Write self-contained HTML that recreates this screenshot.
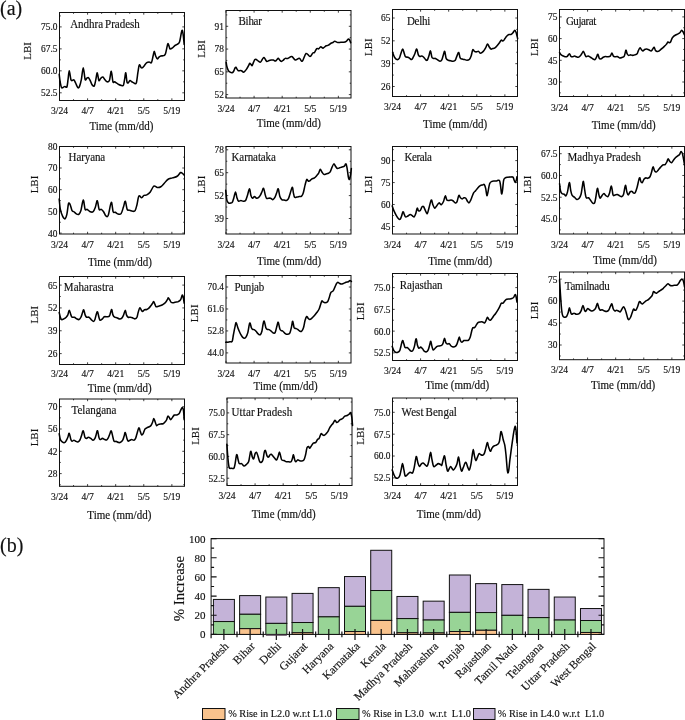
<!DOCTYPE html>
<html><head><meta charset="utf-8"><style>
html,body{margin:0;padding:0;background:#fff;}
svg{display:block;will-change:transform;}
text{font-family:"Liberation Serif",serif;fill:#111;stroke:#111;stroke-width:0.15px;}
.ax{fill:none;stroke:#111;stroke-width:1.0;}
.tk{fill:none;stroke:#111;stroke-width:0.8;}
.tkb{fill:none;stroke:#111;stroke-width:1.2;}
.cv{fill:none;stroke:#000;stroke-width:1.55;stroke-linejoin:round;stroke-linecap:round;}
.yt{font-size:9.4px;text-anchor:end;}
.xt{font-size:9.6px;text-anchor:middle;}
.tl{font-size:11.0px;text-anchor:middle;}
.lbi{font-size:11px;text-anchor:middle;}
.nm{font-size:11px;word-spacing:-0.8px;}
.bo{stroke:#111;stroke-width:1;}
.lg{stroke:#111;stroke-width:1;}
.ybt{font-size:11px;text-anchor:end;}
.bl{font-size:11.5px;text-anchor:end;}
.pi{font-size:14.8px;text-anchor:middle;}
.lt{font-size:10.3px;}
.pl{font-size:20px;}
</style></head>
<body><svg width="685" height="720" viewBox="0 0 685 720">
<g><rect x="59.5" y="12.5" width="125" height="88" class="ax"/><path d="M59.5 100.5v-2.2M59.5 12.5v2.2M73.54 100.5v-1.3M73.54 12.5v1.3M87.59 100.5v-2.2M87.59 12.5v2.2M101.63 100.5v-1.3M101.63 12.5v1.3M115.68 100.5v-2.2M115.68 12.5v2.2M129.72 100.5v-1.3M129.72 12.5v1.3M143.77 100.5v-2.2M143.77 12.5v2.2M157.81 100.5v-1.3M157.81 12.5v1.3M171.86 100.5v-2.2M171.86 12.5v2.2M59.5 15.92h1.3M184.5 15.92h-1.3M59.5 26.9h2.2M184.5 26.9h-2.2M59.5 37.88h1.3M184.5 37.88h-1.3M59.5 48.87h2.2M184.5 48.87h-2.2M59.5 59.85h1.3M184.5 59.85h-1.3M59.5 70.83h2.2M184.5 70.83h-2.2M59.5 81.82h1.3M184.5 81.82h-1.3M59.5 92.8h2.2M184.5 92.8h-2.2" class="tk"/><text transform="translate(57.5 30.3) scale(1 1.1)" class="yt">75.0</text><text transform="translate(57.5 52.27) scale(1 1.1)" class="yt">67.5</text><text transform="translate(57.5 74.23) scale(1 1.1)" class="yt">60.0</text><text transform="translate(57.5 96.2) scale(1 1.1)" class="yt">52.5</text><text transform="translate(59.5 113.98) scale(1 1.1)" class="xt">3/24</text><text transform="translate(87.59 113.98) scale(1 1.1)" class="xt">4/7</text><text transform="translate(115.68 113.98) scale(1 1.1)" class="xt">4/21</text><text transform="translate(143.77 113.98) scale(1 1.1)" class="xt">5/5</text><text transform="translate(171.86 113.98) scale(1 1.1)" class="xt">5/19</text><text transform="translate(121.4 129.97) scale(1 1.1)" class="tl">Time (mm/dd)</text><text transform="translate(31 50.9) rotate(-90)" class="lbi">LBI</text><text transform="translate(70.18 28.16) scale(1 1.06)" class="nm" textLength="69.61" lengthAdjust="spacing">Andhra Pradesh</text><path d="M59.2 74.28C59.35 75.52 59.74 79.53 60.13 81.75C60.52 83.97 60.91 86.73 61.53 87.59C62.16 88.45 63.28 87.09 63.87 86.89C64.45 86.7 64.53 86.42 65.04 86.42C65.54 86.42 66.4 88.06 66.91 86.89C67.41 85.72 67.68 82.1 68.07 79.42C68.46 76.73 68.77 70.77 69.24 70.77C69.71 70.77 70.41 77.78 70.88 79.42C71.34 81.05 71.54 80.51 72.04 80.58C72.55 80.66 73.33 79.49 73.91 79.88C74.5 80.27 74.89 81.64 75.55 82.92C76.21 84.2 77.22 87.01 77.88 87.59C78.55 88.18 78.93 87.79 79.52 86.42C80.1 85.06 80.76 82.53 81.39 79.42C82.01 76.3 82.63 67.74 83.26 67.74C83.88 67.74 84.54 77.66 85.12 79.42C85.71 81.17 86.21 78.56 86.76 78.25C87.3 77.94 87.81 77.16 88.39 77.55C88.98 77.94 89.68 79.42 90.26 80.58C90.85 81.75 91.24 83.66 91.9 84.55C92.56 85.45 93.57 86.81 94.23 85.96C94.9 85.1 95.36 81.6 95.87 79.42C96.37 77.24 96.76 72.68 97.27 72.88C97.78 73.07 98.32 79.69 98.91 80.58C99.49 81.48 100.11 78.83 100.77 78.25C101.44 77.66 102.21 76.89 102.88 77.08C103.54 77.27 104.04 78.64 104.74 79.42C105.45 80.19 106.3 81.56 107.08 81.75C107.86 81.95 108.72 82.34 109.42 80.58C110.12 78.83 110.7 71.05 111.28 71.24C111.87 71.44 112.37 80 112.92 81.75C113.46 83.5 113.97 81.56 114.55 81.75C115.14 81.95 115.72 82.45 116.42 82.92C117.12 83.39 117.9 84.13 118.76 84.55C119.62 84.98 120.78 85.37 121.56 85.49C122.34 85.61 122.92 86.27 123.43 85.26C123.94 84.24 124.21 81.48 124.6 79.42C124.99 77.35 125.38 72.49 125.77 72.88C126.16 73.27 126.55 80.08 126.93 81.75C127.32 83.43 127.6 83.11 128.1 82.92C128.61 82.73 129.35 80.78 129.97 80.58C130.59 80.39 131.18 81.36 131.84 81.75C132.5 82.14 133.2 82.73 133.94 82.92C134.68 83.11 135.62 84.67 136.28 82.92C136.94 81.17 137.41 75.41 137.91 72.41C138.42 69.41 138.77 65.71 139.31 64.93C139.86 64.16 140.64 67.27 141.18 67.74C141.73 68.2 142.04 68.13 142.58 67.74C143.13 67.35 143.75 66.26 144.45 65.4C145.15 64.55 146.01 63.18 146.79 62.6C147.57 62.01 148.35 61.9 149.12 61.9C149.9 61.9 150.8 63.57 151.46 62.6C152.12 61.63 152.63 57.93 153.09 56.06C153.56 54.19 153.83 51.39 154.26 51.39C154.69 51.39 155.16 54.81 155.66 56.06C156.17 57.3 156.75 58.67 157.3 58.86C157.84 59.06 158.35 57.69 158.93 57.23C159.52 56.76 160.02 56.33 160.8 56.06C161.58 55.79 162.83 55.98 163.61 55.59C164.38 55.2 164.77 55.67 165.47 53.72C166.18 51.78 167.19 45.08 167.81 43.91C168.43 42.74 168.82 45.86 169.21 46.72C169.6 47.57 169.6 48.86 170.15 49.05C170.69 49.25 171.7 48.47 172.48 47.88C173.26 47.3 174.04 46.13 174.82 45.55C175.6 44.96 176.37 44.96 177.15 44.38C177.93 43.8 178.79 43.99 179.49 42.04C180.19 40.1 180.89 34.65 181.36 32.7C181.82 30.75 181.98 29.98 182.29 30.36C182.6 30.75 182.91 32.7 183.23 35.04C183.54 37.37 184 42.82 184.16 44.38" class="cv"/></g>
<g><rect x="226" y="10.5" width="125" height="87.5" class="ax"/><path d="M226 98v-2.2M226 10.5v2.2M240.04 98v-1.3M240.04 10.5v1.3M254.09 98v-2.2M254.09 10.5v2.2M268.13 98v-1.3M268.13 10.5v1.3M282.18 98v-2.2M282.18 10.5v2.2M296.22 98v-1.3M296.22 10.5v1.3M310.27 98v-2.2M310.27 10.5v2.2M324.31 98v-1.3M324.31 10.5v1.3M338.36 98v-2.2M338.36 10.5v2.2M226 14.92h1.3M351 14.92h-1.3M226 26.3h2.2M351 26.3h-2.2M226 37.68h1.3M351 37.68h-1.3M226 49.07h2.2M351 49.07h-2.2M226 60.45h1.3M351 60.45h-1.3M226 71.83h2.2M351 71.83h-2.2M226 83.22h1.3M351 83.22h-1.3M226 94.6h2.2M351 94.6h-2.2" class="tk"/><text transform="translate(224 29.7) scale(1 1.1)" class="yt">91</text><text transform="translate(224 52.47) scale(1 1.1)" class="yt">78</text><text transform="translate(224 75.23) scale(1 1.1)" class="yt">65</text><text transform="translate(224 98) scale(1 1.1)" class="yt">52</text><text transform="translate(226 112.35) scale(1 1.1)" class="xt">3/24</text><text transform="translate(254.09 112.35) scale(1 1.1)" class="xt">4/7</text><text transform="translate(282.18 112.35) scale(1 1.1)" class="xt">4/21</text><text transform="translate(310.27 112.35) scale(1 1.1)" class="xt">5/5</text><text transform="translate(338.36 112.35) scale(1 1.1)" class="xt">5/19</text><text transform="translate(288.8 126.93) scale(1 1.1)" class="tl">Time (mm/dd)</text><text transform="translate(205 48.9) rotate(-90)" class="lbi">LBI</text><text transform="translate(238.54 25.13) scale(1 1.06)" class="nm" textLength="23.36" lengthAdjust="spacing">Bihar</text><path d="M226.16 62.36C226.28 63.07 226.51 65.25 226.86 66.57C227.21 67.89 227.72 69.37 228.26 70.31C228.81 71.24 229.47 71.79 230.13 72.18C230.79 72.56 231.65 72.8 232.23 72.64C232.82 72.49 233.17 72.02 233.64 71.24C234.1 70.46 234.65 68.63 235.04 67.97C235.43 67.31 235.66 67.11 235.97 67.27C236.28 67.43 236.52 68.32 236.91 68.91C237.29 69.49 237.76 70.5 238.31 70.77C238.85 71.05 239.63 70.54 240.18 70.54C240.72 70.54 241.03 70.5 241.58 70.77C242.12 71.05 242.9 72.1 243.45 72.18C243.99 72.25 244.3 71.79 244.85 71.24C245.39 70.7 246.05 69.92 246.72 68.91C247.38 67.89 248.31 66.1 248.82 65.17C249.32 64.23 249.4 63.45 249.75 63.3C250.1 63.14 250.53 63.84 250.92 64.23C251.31 64.62 251.66 65.95 252.09 65.64C252.52 65.32 253.02 63.38 253.49 62.36C253.96 61.35 254.42 60.03 254.89 59.56C255.36 59.09 255.75 59.33 256.29 59.56C256.84 59.8 257.46 60.54 258.16 60.96C258.86 61.39 259.76 62.48 260.5 62.13C261.24 61.78 262.01 59.64 262.6 58.86C263.18 58.08 263.53 57.34 264 57.46C264.47 57.58 264.93 58.9 265.4 59.56C265.87 60.22 266.26 61.24 266.8 61.43C267.35 61.63 267.97 60.96 268.67 60.73C269.37 60.5 270.23 60.15 271.01 60.03C271.79 59.91 272.64 59.87 273.34 60.03C274.04 60.18 274.67 60.96 275.21 60.96C275.76 60.96 276.11 60.46 276.61 60.03C277.12 59.6 277.74 58.39 278.25 58.39C278.75 58.39 279.1 59.52 279.65 60.03C280.19 60.54 280.9 61.43 281.52 61.43C282.14 61.43 282.76 60.54 283.39 60.03C284.01 59.52 284.52 58.67 285.26 58.39C286 58.12 286.73 58.71 287.82 58.39C288.91 58.08 290.55 56.25 291.8 56.53C293.04 56.8 294.05 59.76 295.3 60.03C296.55 60.3 298.1 57.97 299.27 58.16C300.44 58.36 301.18 61.98 302.31 61.2C303.44 60.42 304.76 54.27 306.04 53.49C307.33 52.71 308.89 56.6 310.01 56.53C311.14 56.45 312.08 53.68 312.82 53.02C313.56 52.36 313.79 53.29 314.45 52.55C315.11 51.82 316.09 49.21 316.79 48.58C317.49 47.96 318 49.13 318.66 48.82C319.32 48.51 320.02 46.83 320.76 46.72C321.5 46.6 322.2 48.27 323.09 48.12C323.99 47.96 325.24 46.29 326.13 45.78C327.03 45.27 327.65 45.51 328.47 45.08C329.28 44.65 330.3 43.64 331.04 43.21C331.78 42.78 332.28 42.82 332.91 42.51C333.53 42.2 333.96 41.34 334.77 41.34C335.59 41.34 336.8 42.36 337.81 42.51C338.82 42.67 339.87 42.32 340.85 42.28C341.82 42.24 342.75 42.43 343.65 42.28C344.55 42.12 345.48 41.85 346.22 41.34C346.96 40.84 347.54 39.51 348.09 39.24C348.63 38.97 349.06 39.12 349.49 39.71C349.92 40.29 350.46 42.24 350.66 42.74" class="cv"/></g>
<g><rect x="392.5" y="9.5" width="125" height="87" class="ax"/><path d="M392.5 96.5v-2.2M392.5 9.5v2.2M406.54 96.5v-1.3M406.54 9.5v1.3M420.59 96.5v-2.2M420.59 9.5v2.2M434.63 96.5v-1.3M434.63 9.5v1.3M448.68 96.5v-2.2M448.68 9.5v2.2M462.72 96.5v-1.3M462.72 9.5v1.3M476.77 96.5v-2.2M476.77 9.5v2.2M490.81 96.5v-1.3M490.81 9.5v1.3M504.86 96.5v-2.2M504.86 9.5v2.2M392.5 18h2.2M517.5 18h-2.2M392.5 29.42h1.3M517.5 29.42h-1.3M392.5 40.83h2.2M517.5 40.83h-2.2M392.5 52.25h1.3M517.5 52.25h-1.3M392.5 63.67h2.2M517.5 63.67h-2.2M392.5 75.08h1.3M517.5 75.08h-1.3M392.5 86.5h2.2M517.5 86.5h-2.2" class="tk"/><text transform="translate(390.5 21.4) scale(1 1.1)" class="yt">65</text><text transform="translate(390.5 44.23) scale(1 1.1)" class="yt">52</text><text transform="translate(390.5 67.07) scale(1 1.1)" class="yt">39</text><text transform="translate(390.5 89.9) scale(1 1.1)" class="yt">26</text><text transform="translate(392.5 110.25) scale(1 1.1)" class="xt">3/24</text><text transform="translate(420.59 110.25) scale(1 1.1)" class="xt">4/7</text><text transform="translate(448.68 110.25) scale(1 1.1)" class="xt">4/21</text><text transform="translate(476.77 110.25) scale(1 1.1)" class="xt">5/5</text><text transform="translate(504.86 110.25) scale(1 1.1)" class="xt">5/19</text><text transform="translate(455.1 128.1) scale(1 1.1)" class="tl">Time (mm/dd)</text><text transform="translate(371.8 47.2) rotate(-90)" class="lbi">LBI</text><text transform="translate(406.91 25.13) scale(1 1.06)" class="nm" textLength="23.36" lengthAdjust="spacing">Delhi</text><path d="M392.66 52.55C392.97 53.33 393.82 56.06 394.53 57.23C395.23 58.39 396.08 59.37 396.86 59.56C397.64 59.76 398.54 59.37 399.2 58.39C399.86 57.42 400.25 55.28 400.83 53.72C401.42 52.17 402.12 49.05 402.7 49.05C403.28 49.05 403.87 52.44 404.34 53.72C404.8 55.01 404.92 56.18 405.5 56.76C406.09 57.34 407.14 56.95 407.84 57.23C408.54 57.5 409.09 58 409.71 58.39C410.33 58.78 410.99 59.76 411.58 59.56C412.16 59.37 412.67 58.2 413.21 57.23C413.76 56.25 414.26 55.09 414.85 53.72C415.43 52.36 416.13 48.86 416.72 49.05C417.3 49.25 417.84 53.64 418.35 54.89C418.86 56.14 419.17 56.33 419.75 56.53C420.34 56.72 421.19 55.94 421.85 56.06C422.52 56.18 423.1 56.64 423.72 57.23C424.35 57.81 425.01 59.06 425.59 59.56C426.18 60.07 426.68 60.85 427.23 60.26C427.77 59.68 428.32 57.62 428.86 56.06C429.41 54.5 429.99 50.73 430.5 50.92C431 51.11 431.39 55.98 431.9 57.23C432.4 58.47 432.95 58.2 433.53 58.39C434.12 58.59 434.78 58.2 435.4 58.39C436.02 58.59 436.49 59.09 437.27 59.56C438.05 60.03 439.29 61.2 440.07 61.2C440.85 61.2 441.4 60.61 441.94 59.56C442.49 58.51 442.88 56.25 443.34 54.89C443.81 53.53 444.28 50.8 444.74 51.39C445.21 51.97 445.56 56.91 446.15 58.39C446.73 59.87 447.51 59.87 448.25 60.26C448.99 60.65 449.81 60.57 450.58 60.73C451.36 60.89 452.14 61.27 452.92 61.2C453.7 61.12 454.59 61.12 455.26 60.26C455.92 59.41 456.31 57.34 456.89 56.06C457.47 54.77 458.21 52.24 458.76 52.55C459.3 52.87 459.58 56.84 460.16 57.93C460.74 59.02 461.52 58.82 462.26 59.09C463 59.37 463.82 59.37 464.6 59.56C465.38 59.76 466.16 60.26 466.93 60.26C467.71 60.26 468.57 60.26 469.27 59.56C469.97 58.86 470.55 57.69 471.14 56.06C471.72 54.42 472.23 50.53 472.77 49.75C473.32 48.97 473.82 51.04 474.41 51.39C474.99 51.74 475.58 51.85 476.28 51.85C476.98 51.85 477.91 51.15 478.61 51.39C479.31 51.62 479.7 53.26 480.48 53.26C481.26 53.26 482.43 52.28 483.28 51.39C484.14 50.49 484.92 49.13 485.62 47.88C486.32 46.64 486.91 44.11 487.49 43.91C488.07 43.72 488.54 45.86 489.12 46.72C489.71 47.57 490.41 48.74 490.99 49.05C491.58 49.36 491.97 48.78 492.63 48.58C493.29 48.39 494.18 48.39 494.96 47.88C495.74 47.38 496.52 46.44 497.3 45.55C498.08 44.65 498.97 43.41 499.64 42.51C500.3 41.62 500.69 40.45 501.27 40.18C501.85 39.9 502.52 41.15 503.14 40.88C503.76 40.6 504.42 39.32 505.01 38.54C505.59 37.76 505.98 36.87 506.64 36.2C507.3 35.54 508.2 34.88 508.98 34.57C509.76 34.26 510.65 34.65 511.31 34.34C511.98 34.02 512.36 33.36 512.95 32.7C513.53 32.04 514.27 30.36 514.82 30.36C515.36 30.36 515.75 31.34 516.22 32.7C516.69 34.06 517.39 37.57 517.62 38.54" class="cv"/></g>
<g><rect x="559.5" y="9.5" width="125" height="87" class="ax"/><path d="M559.5 96.5v-2.2M559.5 9.5v2.2M573.54 96.5v-1.3M573.54 9.5v1.3M587.59 96.5v-2.2M587.59 9.5v2.2M601.63 96.5v-1.3M601.63 9.5v1.3M615.68 96.5v-2.2M615.68 9.5v2.2M629.72 96.5v-1.3M629.72 9.5v1.3M643.77 96.5v-2.2M643.77 9.5v2.2M657.81 96.5v-1.3M657.81 9.5v1.3M671.86 96.5v-2.2M671.86 9.5v2.2M559.5 16.9h2.2M684.5 16.9h-2.2M559.5 27.75h1.3M684.5 27.75h-1.3M559.5 38.6h2.2M684.5 38.6h-2.2M559.5 49.45h1.3M684.5 49.45h-1.3M559.5 60.3h2.2M684.5 60.3h-2.2M559.5 71.15h1.3M684.5 71.15h-1.3M559.5 82h2.2M684.5 82h-2.2M559.5 92.85h1.3M684.5 92.85h-1.3" class="tk"/><text transform="translate(557.5 20.3) scale(1 1.1)" class="yt">75</text><text transform="translate(557.5 42) scale(1 1.1)" class="yt">60</text><text transform="translate(557.5 63.7) scale(1 1.1)" class="yt">45</text><text transform="translate(557.5 85.4) scale(1 1.1)" class="yt">30</text><text transform="translate(559.5 110.71) scale(1 1.1)" class="xt">3/24</text><text transform="translate(587.59 110.71) scale(1 1.1)" class="xt">4/7</text><text transform="translate(615.68 110.71) scale(1 1.1)" class="xt">4/21</text><text transform="translate(643.77 110.71) scale(1 1.1)" class="xt">5/5</text><text transform="translate(671.86 110.71) scale(1 1.1)" class="xt">5/19</text><text transform="translate(623.7 129.27) scale(1 1.1)" class="tl">Time (mm/dd)</text><text transform="translate(538.3 47.2) rotate(-90)" class="lbi">LBI</text><text transform="translate(565.88 25.13) scale(1 1.06)" class="nm" textLength="30.36" lengthAdjust="spacing">Gujarat</text><path d="M559.57 52.55C559.84 52.94 560.54 54.31 561.2 54.89C561.87 55.47 562.76 55.75 563.54 56.06C564.32 56.37 565.21 56.76 565.88 56.76C566.54 56.76 566.93 56.56 567.51 56.06C568.09 55.55 568.8 53.64 569.38 53.72C569.96 53.8 570.43 56.02 571.01 56.53C571.6 57.03 572.3 56.84 572.88 56.76C573.47 56.68 573.93 56.06 574.52 56.06C575.1 56.06 575.76 56.56 576.39 56.76C577.01 56.95 577.63 57.34 578.26 57.23C578.88 57.11 579.54 56.64 580.12 56.06C580.71 55.47 581.21 54.5 581.76 53.72C582.3 52.94 582.85 51.19 583.39 51.39C583.94 51.58 584.56 54 585.03 54.89C585.5 55.79 585.69 56.56 586.2 56.76C586.7 56.95 587.36 55.98 588.07 56.06C588.77 56.14 589.62 56.76 590.4 57.23C591.18 57.69 591.96 58.47 592.74 58.86C593.52 59.25 594.45 59.83 595.07 59.56C595.7 59.29 596.01 58.12 596.47 57.23C596.94 56.33 597.41 54 597.88 54.19C598.34 54.38 598.77 57.62 599.28 58.39C599.78 59.17 600.25 59.06 600.91 58.86C601.57 58.67 602.47 57.62 603.25 57.23C604.03 56.84 604.81 56.6 605.58 56.53C606.36 56.45 607.14 56.84 607.92 56.76C608.7 56.68 609.59 56.68 610.26 56.06C610.92 55.44 611.38 53.02 611.89 53.02C612.4 53.02 612.79 55.44 613.29 56.06C613.8 56.68 614.27 56.68 614.93 56.76C615.59 56.84 616.48 56.33 617.26 56.53C618.04 56.72 618.82 57.77 619.6 57.93C620.38 58.08 621.16 57.77 621.93 57.46C622.71 57.15 623.61 57.27 624.27 56.06C624.93 54.85 625.44 50.61 625.91 50.22C626.37 49.83 626.64 52.87 627.07 53.72C627.5 54.58 627.89 55.16 628.47 55.36C629.06 55.55 629.91 54.89 630.58 54.89C631.24 54.89 631.74 55.36 632.45 55.36C633.15 55.36 634 55.16 634.78 54.89C635.56 54.62 636.53 54.38 637.12 53.72C637.7 53.06 637.82 51.89 638.28 50.92C638.75 49.95 639.41 48.12 639.92 47.88C640.43 47.65 640.82 49.01 641.32 49.52C641.83 50.02 642.41 50.92 642.96 50.92C643.5 50.92 644.01 49.83 644.59 49.52C645.18 49.21 645.76 49.01 646.46 49.05C647.16 49.09 648.02 49.44 648.8 49.75C649.57 50.06 650.47 51.04 651.13 50.92C651.79 50.8 652.26 49.67 652.77 49.05C653.27 48.43 653.74 46.99 654.17 47.18C654.6 47.38 654.87 49.52 655.34 50.22C655.8 50.92 656.31 51.27 656.97 51.39C657.63 51.5 658.61 51.31 659.31 50.92C660.01 50.53 660.59 49.56 661.18 49.05C661.76 48.55 662.23 48.39 662.81 47.88C663.39 47.38 664.09 46.6 664.68 46.01C665.26 45.43 665.77 45.04 666.31 44.38C666.86 43.72 667.48 42.32 667.95 42.04C668.42 41.77 668.69 42.74 669.12 42.74C669.55 42.74 670.01 42.82 670.52 42.04C671.02 41.27 671.61 39.05 672.15 38.07C672.7 37.1 673.2 36.71 673.79 36.2C674.37 35.7 674.96 35.43 675.66 35.04C676.36 34.65 677.29 34.26 677.99 33.87C678.69 33.48 679.28 33.28 679.86 32.7C680.45 32.12 680.99 30.56 681.5 30.36C682 30.17 682.39 30.75 682.9 31.53C683.4 32.31 684.26 34.45 684.53 35.04" class="cv"/></g>
<g><rect x="59.5" y="146.5" width="125" height="87.5" class="ax"/><path d="M59.5 234v-2.2M59.5 146.5v2.2M73.54 234v-1.3M73.54 146.5v1.3M87.59 234v-2.2M87.59 146.5v2.2M101.63 234v-1.3M101.63 146.5v1.3M115.68 234v-2.2M115.68 146.5v2.2M129.72 234v-1.3M129.72 146.5v1.3M143.77 234v-2.2M143.77 146.5v2.2M157.81 234v-1.3M157.81 146.5v1.3M171.86 234v-2.2M171.86 146.5v2.2M59.5 157.15h1.3M184.5 157.15h-1.3M59.5 168h2.2M184.5 168h-2.2M59.5 178.85h1.3M184.5 178.85h-1.3M59.5 189.7h2.2M184.5 189.7h-2.2M59.5 200.55h1.3M184.5 200.55h-1.3M59.5 211.4h2.2M184.5 211.4h-2.2M59.5 222.25h1.3M184.5 222.25h-1.3M59.5 233.1h2.2M184.5 233.1h-2.2" class="tk"/><text transform="translate(57.5 149.7) scale(1 1.1)" class="yt">80</text><text transform="translate(57.5 171.4) scale(1 1.1)" class="yt">70</text><text transform="translate(57.5 193.1) scale(1 1.1)" class="yt">60</text><text transform="translate(57.5 214.8) scale(1 1.1)" class="yt">50</text><text transform="translate(57.5 236.5) scale(1 1.1)" class="yt">40</text><text transform="translate(59.5 247.96) scale(1 1.1)" class="xt">3/24</text><text transform="translate(87.59 247.96) scale(1 1.1)" class="xt">4/7</text><text transform="translate(115.68 247.96) scale(1 1.1)" class="xt">4/21</text><text transform="translate(143.77 247.96) scale(1 1.1)" class="xt">5/5</text><text transform="translate(171.86 247.96) scale(1 1.1)" class="xt">5/19</text><text transform="translate(119.9 266.27) scale(1 1.1)" class="tl">Time (mm/dd)</text><text transform="translate(38.1 184.5) rotate(-90)" class="lbi">LBI</text><text transform="translate(68.54 160.96) scale(1 1.06)" class="nm" textLength="36.67" lengthAdjust="spacing">Haryana</text><path d="M59.2 198.91C59.39 200.66 59.78 206.5 60.36 209.42C60.95 212.34 61.92 214.87 62.7 216.42C63.48 217.98 64.34 219.15 65.04 218.76C65.74 218.37 66.32 216.62 66.91 214.09C67.49 211.56 68 205.13 68.54 203.58C69.09 202.02 69.59 203.58 70.18 204.74C70.76 205.91 71.42 209.42 72.04 210.58C72.67 211.75 73.13 211.17 73.91 211.75C74.69 212.34 75.86 213.7 76.72 214.09C77.57 214.48 78.35 214.67 79.05 214.09C79.75 213.5 80.22 212.92 80.92 210.58C81.62 208.25 82.55 200.27 83.26 200.07C83.96 199.88 84.46 207.86 85.12 209.42C85.79 210.97 86.37 209.03 87.23 209.42C88.08 209.81 89.29 211.36 90.26 211.75C91.24 212.14 92.21 212.53 93.07 211.75C93.92 210.97 94.7 208.91 95.4 207.08C96.1 205.25 96.65 200.38 97.27 200.77C97.89 201.16 98.48 207.98 99.14 209.42C99.8 210.86 100.5 209.03 101.24 209.42C101.98 209.81 102.8 210.66 103.58 211.75C104.36 212.84 105.13 215.37 105.91 215.96C106.69 216.54 107.35 217.51 108.25 215.26C109.14 213 110.47 202.99 111.28 202.41C112.1 201.82 112.49 210.12 113.15 211.75C113.82 213.39 114.4 211.83 115.26 212.22C116.11 212.61 117.32 213.85 118.29 214.09C119.27 214.32 120.24 214.79 121.09 213.62C121.95 212.45 122.73 209.14 123.43 207.08C124.13 205.02 124.68 200.85 125.3 201.24C125.92 201.63 126.51 207.94 127.17 209.42C127.83 210.9 128.34 209.81 129.27 210.12C130.2 210.43 131.8 211.21 132.77 211.28C133.75 211.36 134.41 211.67 135.11 210.58C135.81 209.49 136.36 207.16 136.98 204.74C137.6 202.33 138.07 197.27 138.85 196.1C139.63 194.93 140.79 197.85 141.65 197.74C142.51 197.62 143.13 195.87 143.99 195.4C144.84 194.93 145.74 195.52 146.79 194.93C147.84 194.35 149.12 193.38 150.29 191.9C151.46 190.42 152.63 186.8 153.8 186.06C154.96 185.32 156.13 187.34 157.3 187.46C158.47 187.58 159.64 187.46 160.8 186.76C161.97 186.06 163.14 184.46 164.31 183.26C165.47 182.05 166.45 180.41 167.81 179.52C169.17 178.62 170.92 178.43 172.48 177.88C174.04 177.34 175.79 177.14 177.15 176.25C178.52 175.35 179.68 172.9 180.66 172.51C181.63 172.12 182.41 173.48 182.99 173.91C183.58 174.34 183.97 174.89 184.16 175.08" class="cv"/></g>
<g><rect x="226" y="146.5" width="125" height="87.5" class="ax"/><path d="M226 234v-2.2M226 146.5v2.2M240.04 234v-1.3M240.04 146.5v1.3M254.09 234v-2.2M254.09 146.5v2.2M268.13 234v-1.3M268.13 146.5v1.3M282.18 234v-2.2M282.18 146.5v2.2M296.22 234v-1.3M296.22 146.5v1.3M310.27 234v-2.2M310.27 146.5v2.2M324.31 234v-1.3M324.31 146.5v1.3M338.36 234v-2.2M338.36 146.5v2.2M226 149.8h2.2M351 149.8h-2.2M226 161.25h1.3M351 161.25h-1.3M226 172.7h2.2M351 172.7h-2.2M226 184.15h1.3M351 184.15h-1.3M226 195.6h2.2M351 195.6h-2.2M226 207.05h1.3M351 207.05h-1.3M226 218.5h2.2M351 218.5h-2.2M226 229.95h1.3M351 229.95h-1.3" class="tk"/><text transform="translate(224 153.2) scale(1 1.1)" class="yt">78</text><text transform="translate(224 176.1) scale(1 1.1)" class="yt">65</text><text transform="translate(224 199) scale(1 1.1)" class="yt">52</text><text transform="translate(224 221.9) scale(1 1.1)" class="yt">39</text><text transform="translate(226 247.96) scale(1 1.1)" class="xt">3/24</text><text transform="translate(254.09 247.96) scale(1 1.1)" class="xt">4/7</text><text transform="translate(282.18 247.96) scale(1 1.1)" class="xt">4/21</text><text transform="translate(310.27 247.96) scale(1 1.1)" class="xt">5/5</text><text transform="translate(338.36 247.96) scale(1 1.1)" class="xt">5/19</text><text transform="translate(289.1 265.11) scale(1 1.1)" class="tl">Time (mm/dd)</text><text transform="translate(205.3 184.5) rotate(-90)" class="lbi">LBI</text><text transform="translate(231.53 161.43) scale(1 1.06)" class="nm" textLength="44.38" lengthAdjust="spacing">Karnataka</text><path d="M225.69 190.26C225.89 191.9 226.39 197.97 226.86 200.07C227.33 202.18 227.91 202.37 228.5 202.88C229.08 203.38 229.74 203.19 230.36 203.11C230.99 203.03 231.65 203.3 232.23 202.41C232.82 201.51 233.32 199.49 233.87 197.74C234.41 195.99 235 191.9 235.5 191.9C236.01 191.9 236.4 196.18 236.91 197.74C237.41 199.29 237.88 200.77 238.54 201.24C239.2 201.71 240.1 200.54 240.88 200.54C241.65 200.54 242.43 201.24 243.21 201.24C243.99 201.24 244.85 201.51 245.55 200.54C246.25 199.57 246.75 197.35 247.42 195.4C248.08 193.45 248.93 188.86 249.52 188.86C250.1 188.86 250.41 193.84 250.92 195.4C251.43 196.96 251.97 198.01 252.55 198.2C253.14 198.4 253.76 196.57 254.42 196.57C255.09 196.57 255.86 198.01 256.53 198.2C257.19 198.4 257.77 198.2 258.39 197.74C259.02 197.27 259.68 196.37 260.26 195.4C260.85 194.43 261.35 193.07 261.9 191.9C262.44 190.73 262.95 187.81 263.53 188.39C264.12 188.98 264.9 193.73 265.4 195.4C265.91 197.08 266.06 197.97 266.57 198.44C267.08 198.91 267.78 198.24 268.44 198.2C269.1 198.17 269.8 197.97 270.54 198.2C271.28 198.44 272.18 199.68 272.88 199.61C273.58 199.53 274.12 198.83 274.74 197.74C275.37 196.65 276.03 194.55 276.61 193.07C277.2 191.59 277.7 188.28 278.25 188.86C278.79 189.45 279.3 194.78 279.88 196.57C280.47 198.36 281.05 199.02 281.75 199.61C282.45 200.19 283.31 199.92 284.09 200.07C284.87 200.23 285.72 200.73 286.42 200.54C287.12 200.35 287.71 199.96 288.29 198.91C288.88 197.85 289.27 196.18 289.93 194.23C290.59 192.29 291.68 187.42 292.26 187.23C292.85 187.03 293.04 191.39 293.43 193.07C293.82 194.74 294.01 196.61 294.6 197.27C295.18 197.93 296.16 197.15 296.93 197.04C297.71 196.92 298.49 196.73 299.27 196.57C300.05 196.41 300.94 196.69 301.61 196.1C302.27 195.52 302.66 194.93 303.24 193.07C303.82 191.2 304.53 187.15 305.11 184.89C305.69 182.63 306.24 180.18 306.74 179.52C307.25 178.86 307.64 180.69 308.15 180.92C308.65 181.15 309.2 181.23 309.78 180.92C310.36 180.61 310.87 179.56 311.65 179.05C312.43 178.55 313.6 178.47 314.45 177.88C315.31 177.3 316.09 176.33 316.79 175.55C317.49 174.77 318.07 174.26 318.66 173.21C319.24 172.16 319.75 169.44 320.29 169.24C320.84 169.05 321.34 171.19 321.93 172.04C322.51 172.9 323.09 174.07 323.8 174.38C324.5 174.69 325.35 174.11 326.13 173.91C326.91 173.72 327.77 173.6 328.47 173.21C329.17 172.82 329.75 172.55 330.34 171.58C330.92 170.6 331.39 168.66 331.97 167.37C332.55 166.09 333.26 164.06 333.84 163.87C334.42 163.67 334.89 165.43 335.47 166.2C336.06 166.98 336.64 168.27 337.34 168.54C338.04 168.81 338.9 168.11 339.68 167.84C340.46 167.57 341.24 167.18 342.01 166.91C342.79 166.63 343.69 166.71 344.35 166.2C345.01 165.7 345.52 163.48 345.99 163.87C346.45 164.26 346.76 166.4 347.15 168.54C347.54 170.68 347.93 174.89 348.32 176.72C348.71 178.55 349.1 179.91 349.49 179.52C349.88 179.13 350.35 176.21 350.66 174.38C350.97 172.55 351.24 169.51 351.36 168.54" class="cv"/></g>
<g><rect x="392.5" y="146.5" width="125" height="87.5" class="ax"/><path d="M392.5 234v-2.2M392.5 146.5v2.2M406.54 234v-1.3M406.54 146.5v1.3M420.59 234v-2.2M420.59 146.5v2.2M434.63 234v-1.3M434.63 146.5v1.3M448.68 234v-2.2M448.68 146.5v2.2M462.72 234v-1.3M462.72 146.5v1.3M476.77 234v-2.2M476.77 146.5v2.2M490.81 234v-1.3M490.81 146.5v1.3M504.86 234v-2.2M504.86 146.5v2.2M392.5 149.62h1.3M517.5 149.62h-1.3M392.5 160.6h2.2M517.5 160.6h-2.2M392.5 171.58h1.3M517.5 171.58h-1.3M392.5 182.57h2.2M517.5 182.57h-2.2M392.5 193.55h1.3M517.5 193.55h-1.3M392.5 204.53h2.2M517.5 204.53h-2.2M392.5 215.52h1.3M517.5 215.52h-1.3M392.5 226.5h2.2M517.5 226.5h-2.2" class="tk"/><text transform="translate(390.5 164) scale(1 1.1)" class="yt">90</text><text transform="translate(390.5 185.97) scale(1 1.1)" class="yt">75</text><text transform="translate(390.5 207.93) scale(1 1.1)" class="yt">60</text><text transform="translate(390.5 229.9) scale(1 1.1)" class="yt">45</text><text transform="translate(392.5 247.96) scale(1 1.1)" class="xt">3/24</text><text transform="translate(420.59 247.96) scale(1 1.1)" class="xt">4/7</text><text transform="translate(448.68 247.96) scale(1 1.1)" class="xt">4/21</text><text transform="translate(476.77 247.96) scale(1 1.1)" class="xt">5/5</text><text transform="translate(504.86 247.96) scale(1 1.1)" class="xt">5/19</text><text transform="translate(460.2 265.11) scale(1 1.1)" class="tl">Time (mm/dd)</text><text transform="translate(372.1 184.5) rotate(-90)" class="lbi">LBI</text><text transform="translate(404.38 160.96) scale(1 1.06)" class="nm" textLength="27.56" lengthAdjust="spacing">Kerala</text><path d="M392.23 205.91C392.51 206.69 393.21 209.03 393.87 210.58C394.53 212.14 395.43 213.89 396.2 215.26C396.98 216.62 397.88 218.1 398.54 218.76C399.2 219.42 399.67 219.69 400.18 219.23C400.68 218.76 401.11 217.2 401.58 215.96C402.04 214.71 402.51 211.99 402.98 211.75C403.45 211.52 403.95 213.7 404.38 214.55C404.81 215.41 404.96 216.66 405.55 216.89C406.13 217.12 407.1 216.35 407.88 215.96C408.66 215.57 409.44 214.55 410.22 214.55C411 214.55 411.89 215.57 412.55 215.96C413.22 216.35 413.68 217.2 414.19 216.89C414.7 216.58 415.09 215.53 415.59 214.09C416.1 212.65 416.76 208.83 417.23 208.25C417.69 207.66 417.89 210.19 418.39 210.58C418.9 210.97 419.68 211.17 420.26 210.58C420.85 210 421.35 207.74 421.9 207.08C422.44 206.42 422.95 206.03 423.53 206.61C424.12 207.2 424.78 209.42 425.4 210.58C426.02 211.75 426.69 214.01 427.27 213.62C427.85 213.23 428.24 210.51 428.91 208.25C429.57 205.99 430.58 200.66 431.24 200.07C431.9 199.49 432.29 203.38 432.88 204.74C433.46 206.11 434.12 208.05 434.74 208.25C435.37 208.44 435.91 206.81 436.61 205.91C437.31 205.02 438.17 203.07 438.95 202.88C439.73 202.68 440.51 205.02 441.28 204.74C442.06 204.47 442.96 202.72 443.62 201.24C444.28 199.76 444.71 196.06 445.26 195.87C445.8 195.67 446.31 199.29 446.89 200.07C447.47 200.85 448.06 200.54 448.76 200.54C449.46 200.54 450.39 200.03 451.09 200.07C451.8 200.11 452.26 200.31 452.96 200.77C453.66 201.24 454.64 202.68 455.3 202.88C455.96 203.07 456.35 203.19 456.93 201.94C457.52 200.7 458.22 196.1 458.8 195.4C459.39 194.7 459.85 197.15 460.44 197.74C461.02 198.32 461.72 198.91 462.31 198.91C462.89 198.91 463.36 197.85 463.94 197.74C464.53 197.62 465.23 197.62 465.81 198.2C466.39 198.79 466.9 200.46 467.45 201.24C467.99 202.02 468.54 203.07 469.08 202.88C469.63 202.68 470.21 201.12 470.72 200.07C471.22 199.02 471.61 197.82 472.12 196.57C472.62 195.32 473.17 193.57 473.75 192.6C474.34 191.63 474.92 191.55 475.62 190.73C476.32 189.91 477.18 188.55 477.96 187.69C478.73 186.84 479.51 186.06 480.29 185.59C481.07 185.12 481.97 185.09 482.63 184.89C483.29 184.7 483.76 183.84 484.26 184.42C484.77 185.01 485.24 186.56 485.66 188.39C486.09 190.22 486.48 194.62 486.83 195.4C487.18 196.18 487.3 195.01 487.77 193.07C488.23 191.12 488.93 185.67 489.64 183.72C490.34 181.78 491.19 181.85 491.97 181.39C492.75 180.92 493.53 181 494.31 180.92C495.09 180.84 495.98 181.04 496.64 180.92C497.3 180.8 497.77 180.22 498.28 180.22C498.78 180.22 499.29 179.95 499.68 180.92C500.07 181.89 500.3 183.92 500.61 186.06C500.92 188.2 501.24 192.99 501.55 193.77C501.86 194.55 502.13 192.99 502.48 190.73C502.83 188.47 503.18 182.36 503.65 180.22C504.12 178.08 504.62 178.39 505.28 177.88C505.95 177.38 506.73 177.34 507.62 177.18C508.52 177.03 509.76 176.95 510.66 176.95C511.55 176.95 512.41 176.64 512.99 177.18C513.58 177.73 513.77 179.32 514.16 180.22C514.55 181.11 514.94 182.67 515.33 182.55C515.72 182.44 516.22 180.49 516.5 179.52C516.77 178.55 516.89 177.18 516.96 176.72" class="cv"/></g>
<g><rect x="559.5" y="146.5" width="125" height="87.5" class="ax"/><path d="M559.5 234v-2.2M559.5 146.5v2.2M573.54 234v-1.3M573.54 146.5v1.3M587.59 234v-2.2M587.59 146.5v2.2M601.63 234v-1.3M601.63 146.5v1.3M615.68 234v-2.2M615.68 146.5v2.2M629.72 234v-1.3M629.72 146.5v1.3M643.77 234v-2.2M643.77 146.5v2.2M657.81 234v-1.3M657.81 146.5v1.3M671.86 234v-2.2M671.86 146.5v2.2M559.5 153.7h2.2M684.5 153.7h-2.2M559.5 164.58h1.3M684.5 164.58h-1.3M559.5 175.47h2.2M684.5 175.47h-2.2M559.5 186.35h1.3M684.5 186.35h-1.3M559.5 197.23h2.2M684.5 197.23h-2.2M559.5 208.12h1.3M684.5 208.12h-1.3M559.5 219h2.2M684.5 219h-2.2M559.5 229.88h1.3M684.5 229.88h-1.3" class="tk"/><text transform="translate(557.5 157.1) scale(1 1.1)" class="yt">67.5</text><text transform="translate(557.5 178.87) scale(1 1.1)" class="yt">60.0</text><text transform="translate(557.5 200.63) scale(1 1.1)" class="yt">52.5</text><text transform="translate(557.5 222.4) scale(1 1.1)" class="yt">45.0</text><text transform="translate(559.5 247.96) scale(1 1.1)" class="xt">3/24</text><text transform="translate(587.59 247.96) scale(1 1.1)" class="xt">4/7</text><text transform="translate(615.68 247.96) scale(1 1.1)" class="xt">4/21</text><text transform="translate(643.77 247.96) scale(1 1.1)" class="xt">5/5</text><text transform="translate(671.86 247.96) scale(1 1.1)" class="xt">5/19</text><text transform="translate(624.9 263.94) scale(1 1.1)" class="tl">Time (mm/dd)</text><text transform="translate(531.2 184.5) rotate(-90)" class="lbi">LBI</text><text transform="translate(567.51 161.43) scale(1 1.06)" class="nm" textLength="73.58" lengthAdjust="spacing">Madhya Pradesh</text><path d="M559.57 183.72C559.73 184.89 560.11 189.09 560.5 190.73C560.89 192.36 561.28 192.95 561.91 193.53C562.53 194.12 563.58 193.84 564.24 194.23C564.9 194.62 565.33 196.26 565.88 195.87C566.42 195.48 566.93 194.12 567.51 191.9C568.09 189.68 568.83 182.75 569.38 182.55C569.92 182.36 570.31 188.59 570.78 190.73C571.25 192.87 571.56 194.31 572.18 195.4C572.81 196.49 573.74 196.61 574.52 197.27C575.3 197.93 576.08 199.22 576.85 199.37C577.63 199.53 578.49 199.06 579.19 198.2C579.89 197.35 580.55 196.06 581.06 194.23C581.56 192.4 581.84 189.37 582.23 187.23C582.62 185.09 582.97 180.8 583.39 181.39C583.82 181.97 584.33 188 584.8 190.73C585.26 193.45 585.57 196.57 586.2 197.74C586.82 198.91 587.83 197.35 588.53 197.74C589.23 198.13 589.7 199.18 590.4 200.07C591.1 200.97 592.04 202.64 592.74 203.11C593.44 203.58 594.1 203.77 594.61 202.88C595.11 201.98 595.31 200.15 595.77 197.74C596.24 195.32 596.86 188.78 597.41 188.39C597.95 188 598.58 193.77 599.04 195.4C599.51 197.04 599.71 198.2 600.21 198.2C600.72 198.2 601.46 196.18 602.08 195.4C602.7 194.62 603.36 193.53 603.95 193.53C604.53 193.53 604.92 194.9 605.58 195.4C606.25 195.91 607.26 196.96 607.92 196.57C608.58 196.18 608.97 194.82 609.55 193.07C610.14 191.31 610.84 185.75 611.42 186.06C612.01 186.37 612.47 193.45 613.06 194.93C613.64 196.41 614.23 195.01 614.93 194.93C615.63 194.86 616.48 194.31 617.26 194.47C618.04 194.62 618.82 195.52 619.6 195.87C620.38 196.22 621.27 196.84 621.93 196.57C622.6 196.3 622.99 196.1 623.57 194.23C624.15 192.36 624.89 185.75 625.44 185.36C625.98 184.97 626.37 190.3 626.84 191.9C627.31 193.49 627.7 194.93 628.24 194.93C628.79 194.93 629.49 192.48 630.11 191.9C630.73 191.31 631.39 191.24 631.98 191.43C632.56 191.63 633.07 192.87 633.61 193.07C634.16 193.26 634.66 193.57 635.25 192.6C635.83 191.63 636.42 189.68 637.12 187.23C637.82 184.77 638.83 178.86 639.45 177.88C640.08 176.91 640.39 180.61 640.85 181.39C641.32 182.17 641.71 182.94 642.26 182.55C642.8 182.17 643.5 179.83 644.12 179.05C644.75 178.27 645.41 178 645.99 177.88C646.58 177.77 646.97 178.55 647.63 178.35C648.29 178.16 649.3 177.77 649.96 176.72C650.63 175.66 651.09 173.68 651.6 172.04C652.1 170.41 652.49 167.1 653 166.91C653.51 166.71 654.09 170.02 654.64 170.88C655.18 171.73 655.69 172.16 656.27 172.04C656.85 171.93 657.44 170.95 658.14 170.18C658.84 169.4 659.7 168.23 660.47 167.37C661.25 166.52 662.03 165.5 662.81 165.04C663.59 164.57 664.45 165.15 665.15 164.57C665.85 163.99 666.51 162.51 667.01 161.53C667.52 160.56 667.72 158.73 668.18 158.73C668.65 158.73 669.23 160.87 669.82 161.53C670.4 162.19 671.1 162.9 671.69 162.7C672.27 162.51 672.66 161.22 673.32 160.36C673.98 159.51 674.88 158.34 675.66 157.56C676.44 156.78 677.33 156.2 677.99 155.69C678.65 155.19 679.12 155.23 679.63 154.53C680.13 153.82 680.52 151.49 681.03 151.49C681.54 151.49 682.08 152.27 682.66 154.53C683.25 156.78 684.22 163.28 684.53 165.04" class="cv"/></g>
<g><rect x="59.5" y="276.5" width="125" height="88" class="ax"/><path d="M59.5 364.5v-2.2M59.5 276.5v2.2M73.54 364.5v-1.3M73.54 276.5v1.3M87.59 364.5v-2.2M87.59 276.5v2.2M101.63 364.5v-1.3M101.63 276.5v1.3M115.68 364.5v-2.2M115.68 276.5v2.2M129.72 364.5v-1.3M129.72 276.5v1.3M143.77 364.5v-2.2M143.77 276.5v2.2M157.81 364.5v-1.3M157.81 276.5v1.3M171.86 364.5v-2.2M171.86 276.5v2.2M59.5 285.1h2.2M184.5 285.1h-2.2M59.5 296.52h1.3M184.5 296.52h-1.3M59.5 307.93h2.2M184.5 307.93h-2.2M59.5 319.35h1.3M184.5 319.35h-1.3M59.5 330.77h2.2M184.5 330.77h-2.2M59.5 342.18h1.3M184.5 342.18h-1.3M59.5 353.6h2.2M184.5 353.6h-2.2" class="tk"/><text transform="translate(57.5 288.5) scale(1 1.1)" class="yt">65</text><text transform="translate(57.5 311.33) scale(1 1.1)" class="yt">52</text><text transform="translate(57.5 334.17) scale(1 1.1)" class="yt">39</text><text transform="translate(57.5 357) scale(1 1.1)" class="yt">26</text><text transform="translate(59.5 377.49) scale(1 1.1)" class="xt">3/24</text><text transform="translate(87.59 377.49) scale(1 1.1)" class="xt">4/7</text><text transform="translate(115.68 377.49) scale(1 1.1)" class="xt">4/21</text><text transform="translate(143.77 377.49) scale(1 1.1)" class="xt">5/5</text><text transform="translate(171.86 377.49) scale(1 1.1)" class="xt">5/19</text><text transform="translate(119.7 391.6) scale(1 1.1)" class="tl">Time (mm/dd)</text><text transform="translate(38.3 314.6) rotate(-90)" class="lbi">LBI</text><text transform="translate(63.87 291.43) scale(1 1.06)" class="nm" textLength="49.75" lengthAdjust="spacing">Maharastra</text><path d="M59.2 312.55C59.39 313.33 59.98 316.06 60.36 317.23C60.75 318.39 60.95 319.29 61.53 319.56C62.12 319.83 63.09 319.25 63.87 318.86C64.65 318.47 65.54 317.89 66.2 317.23C66.87 316.56 67.33 316.06 67.84 314.89C68.35 313.72 68.73 310.22 69.24 310.22C69.75 310.22 70.41 313.72 70.88 314.89C71.34 316.06 71.46 316.84 72.04 317.23C72.63 317.62 73.6 316.95 74.38 317.23C75.16 317.5 75.94 318.47 76.72 318.86C77.49 319.25 78.35 319.83 79.05 319.56C79.75 319.29 80.34 318.39 80.92 317.23C81.5 316.06 82.09 313.8 82.55 312.55C83.02 311.31 83.29 309.36 83.72 309.75C84.15 310.14 84.66 313.64 85.12 314.89C85.59 316.14 85.9 316.84 86.53 317.23C87.15 317.62 88.08 316.84 88.86 317.23C89.64 317.62 90.42 318.86 91.2 319.56C91.98 320.26 92.91 321.43 93.53 321.43C94.16 321.43 94.51 320.65 94.93 319.56C95.36 318.47 95.67 316.18 96.1 314.89C96.53 313.61 97.04 311.46 97.5 311.85C97.97 312.24 98.48 315.82 98.91 317.23C99.33 318.63 99.49 319.99 100.07 320.26C100.66 320.54 101.71 319.45 102.41 318.86C103.11 318.28 103.5 317.11 104.28 316.76C105.06 316.41 106.22 316.88 107.08 316.76C107.94 316.64 108.83 316.76 109.42 316.06C110 315.36 110.19 313.64 110.58 312.55C110.97 311.46 111.36 309.13 111.75 309.52C112.14 309.91 112.45 313.61 112.92 314.89C113.39 316.18 113.89 316.76 114.55 317.23C115.22 317.69 116.11 317.42 116.89 317.69C117.67 317.97 118.45 318.74 119.23 318.86C120 318.98 120.86 318.98 121.56 318.39C122.26 317.81 122.81 316.72 123.43 315.36C124.05 314 124.79 310.3 125.3 310.22C125.81 310.14 126 313.72 126.47 314.89C126.93 316.06 127.44 316.84 128.1 317.23C128.76 317.62 129.66 317.11 130.44 317.23C131.22 317.34 132 317.65 132.77 317.93C133.55 318.2 134.41 318.98 135.11 318.86C135.81 318.74 136.47 318.28 136.98 317.23C137.48 316.18 137.68 314.11 138.15 312.55C138.61 311 139.24 308.27 139.78 307.88C140.33 307.49 140.95 309.64 141.42 310.22C141.88 310.8 142.08 311.46 142.58 311.39C143.09 311.31 143.75 310.06 144.45 309.75C145.15 309.44 146.01 309.83 146.79 309.52C147.57 309.21 148.42 308.55 149.12 307.88C149.82 307.22 150.41 306.33 150.99 305.55C151.58 304.77 152.16 303.87 152.63 303.21C153.09 302.55 153.41 301.38 153.8 301.58C154.18 301.77 154.57 303.52 154.96 304.38C155.35 305.24 155.55 306.4 156.13 306.72C156.72 307.03 157.69 306.44 158.47 306.25C159.25 306.05 160.02 305.86 160.8 305.55C161.58 305.24 162.36 304.89 163.14 304.38C163.92 303.87 164.77 303.29 165.47 302.51C166.18 301.73 166.88 300.49 167.34 299.71C167.81 298.93 167.89 297.84 168.28 297.84C168.67 297.84 169.17 298.93 169.68 299.71C170.18 300.49 170.65 302 171.31 302.51C171.98 303.02 172.87 302.82 173.65 302.74C174.43 302.67 175.21 302.24 175.99 302.04C176.76 301.85 177.54 301.97 178.32 301.58C179.1 301.19 180 300.8 180.66 299.71C181.32 298.62 181.82 295.23 182.29 295.04C182.76 294.84 183.15 297.18 183.46 298.54C183.77 299.9 184.04 302.43 184.16 303.21" class="cv"/></g>
<g><rect x="226" y="275.5" width="125" height="87.5" class="ax"/><path d="M226 363v-2.2M226 275.5v2.2M240.04 363v-1.3M240.04 275.5v1.3M254.09 363v-2.2M254.09 275.5v2.2M268.13 363v-1.3M268.13 275.5v1.3M282.18 363v-2.2M282.18 275.5v2.2M296.22 363v-1.3M296.22 275.5v1.3M310.27 363v-2.2M310.27 275.5v2.2M324.31 363v-1.3M324.31 275.5v1.3M338.36 363v-2.2M338.36 275.5v2.2M226 287h2.2M351 287h-2.2M226 297.98h1.3M351 297.98h-1.3M226 308.97h2.2M351 308.97h-2.2M226 319.95h1.3M351 319.95h-1.3M226 330.93h2.2M351 330.93h-2.2M226 341.92h1.3M351 341.92h-1.3M226 352.9h2.2M351 352.9h-2.2" class="tk"/><text transform="translate(224 290.4) scale(1 1.1)" class="yt">70.4</text><text transform="translate(224 312.37) scale(1 1.1)" class="yt">61.6</text><text transform="translate(224 334.33) scale(1 1.1)" class="yt">52.8</text><text transform="translate(224 356.3) scale(1 1.1)" class="yt">44.0</text><text transform="translate(226 377.49) scale(1 1.1)" class="xt">3/24</text><text transform="translate(254.09 377.49) scale(1 1.1)" class="xt">4/7</text><text transform="translate(282.18 377.49) scale(1 1.1)" class="xt">4/21</text><text transform="translate(310.27 377.49) scale(1 1.1)" class="xt">5/5</text><text transform="translate(338.36 377.49) scale(1 1.1)" class="xt">5/19</text><text transform="translate(285.6 390.44) scale(1 1.1)" class="tl">Time (mm/dd)</text><text transform="translate(197.6 313.3) rotate(-90)" class="lbi">LBI</text><text transform="translate(234.57 291.43) scale(1 1.06)" class="nm" textLength="29.66" lengthAdjust="spacing">Punjab</text><path d="M225.69 342.22C226.08 342.22 227.25 342.3 228.03 342.22C228.81 342.14 229.66 341.91 230.36 341.75C231.07 341.6 231.73 342.45 232.23 341.28C232.74 340.12 232.93 337.2 233.4 334.74C233.87 332.29 234.57 328.59 235.04 326.57C235.5 324.55 235.74 322.4 236.2 322.6C236.67 322.79 237.33 326.3 237.84 327.74C238.35 329.18 238.73 330.07 239.24 331.24C239.75 332.41 240.33 333.77 240.88 334.74C241.42 335.72 241.93 336.5 242.51 337.08C243.09 337.66 243.76 338.33 244.38 338.25C245 338.17 245.66 337.59 246.25 336.61C246.83 335.64 247.3 334.67 247.88 332.41C248.47 330.15 249.17 323.84 249.75 323.07C250.34 322.29 250.92 326.69 251.39 327.74C251.85 328.79 252.09 329.06 252.55 329.37C253.02 329.68 253.61 329.29 254.19 329.61C254.77 329.92 255.44 330.58 256.06 331.24C256.68 331.9 257.23 332.99 257.93 333.58C258.63 334.16 259.6 335.13 260.26 334.74C260.92 334.36 261.43 332.99 261.9 331.24C262.36 329.49 262.68 325.91 263.07 324.23C263.45 322.56 263.77 320.61 264.23 321.2C264.7 321.78 265.36 326.37 265.87 327.74C266.37 329.1 266.73 329.06 267.27 329.37C267.82 329.68 268.48 329.29 269.14 329.61C269.8 329.92 270.5 330.66 271.24 331.24C271.98 331.82 272.91 332.91 273.58 333.11C274.24 333.3 274.63 333.69 275.21 332.41C275.8 331.12 276.57 327.08 277.08 325.4C277.59 323.73 277.78 321.78 278.25 322.36C278.72 322.95 279.38 327.54 279.88 328.91C280.39 330.27 280.78 330.15 281.28 330.54C281.79 330.93 282.26 330.73 282.92 331.24C283.58 331.75 284.48 333.07 285.26 333.58C286.03 334.08 286.81 334.39 287.59 334.28C288.37 334.16 289.27 334.16 289.93 332.88C290.59 331.59 291.09 328.52 291.56 326.57C292.03 324.62 292.3 321 292.73 321.2C293.16 321.39 293.63 326.53 294.13 327.74C294.64 328.94 295.18 328.17 295.77 328.44C296.35 328.71 296.93 328.91 297.64 329.37C298.34 329.84 299.31 330.93 299.97 331.24C300.63 331.55 301.02 331.82 301.61 331.24C302.19 330.66 302.89 329.57 303.47 327.74C304.06 325.91 304.56 322.13 305.11 320.26C305.65 318.39 306.24 316.84 306.74 316.53C307.25 316.21 307.64 317.89 308.15 318.39C308.65 318.9 309.2 319.56 309.78 319.56C310.36 319.56 310.87 319.06 311.65 318.39C312.43 317.73 313.6 316.56 314.45 315.59C315.31 314.62 316.01 313.64 316.79 312.55C317.57 311.46 318.42 310.61 319.12 309.05C319.82 307.49 320.53 304.57 320.99 303.21C321.46 301.85 321.54 301.07 321.93 300.88C322.32 300.68 322.82 301.73 323.33 302.04C323.83 302.36 324.3 302.74 324.96 302.74C325.63 302.74 326.64 302.74 327.3 302.04C327.96 301.34 328.35 300.1 328.93 298.54C329.52 296.98 330.1 293.99 330.8 292.7C331.5 291.42 332.44 291.81 333.14 290.83C333.84 289.86 334.42 288.11 335.01 286.86C335.59 285.62 336.18 284.14 336.64 283.36C337.11 282.58 337.34 282.19 337.81 282.19C338.28 282.19 338.86 283.05 339.45 283.36C340.03 283.67 340.61 284.06 341.31 284.06C342.01 284.06 342.87 283.67 343.65 283.36C344.43 283.05 345.21 282.46 345.99 282.19C346.76 281.92 347.66 282 348.32 281.72C348.98 281.45 349.45 280.59 349.96 280.55C350.46 280.52 351.12 281.33 351.36 281.49" class="cv"/></g>
<g><rect x="392.5" y="273.5" width="125" height="87" class="ax"/><path d="M392.5 360.5v-2.2M392.5 273.5v2.2M406.54 360.5v-1.3M406.54 273.5v1.3M420.59 360.5v-2.2M420.59 273.5v2.2M434.63 360.5v-1.3M434.63 273.5v1.3M448.68 360.5v-2.2M448.68 273.5v2.2M462.72 360.5v-1.3M462.72 273.5v1.3M476.77 360.5v-2.2M476.77 273.5v2.2M490.81 360.5v-1.3M490.81 273.5v1.3M504.86 360.5v-2.2M504.86 273.5v2.2M392.5 276.72h1.3M517.5 276.72h-1.3M392.5 287.6h2.2M517.5 287.6h-2.2M392.5 298.48h1.3M517.5 298.48h-1.3M392.5 309.37h2.2M517.5 309.37h-2.2M392.5 320.25h1.3M517.5 320.25h-1.3M392.5 331.13h2.2M517.5 331.13h-2.2M392.5 342.02h1.3M517.5 342.02h-1.3M392.5 352.9h2.2M517.5 352.9h-2.2" class="tk"/><text transform="translate(390.5 291) scale(1 1.1)" class="yt">75.0</text><text transform="translate(390.5 312.77) scale(1 1.1)" class="yt">67.5</text><text transform="translate(390.5 334.53) scale(1 1.1)" class="yt">60.0</text><text transform="translate(390.5 356.3) scale(1 1.1)" class="yt">52.5</text><text transform="translate(392.5 373.98) scale(1 1.1)" class="xt">3/24</text><text transform="translate(420.59 373.98) scale(1 1.1)" class="xt">4/7</text><text transform="translate(448.68 373.98) scale(1 1.1)" class="xt">4/21</text><text transform="translate(476.77 373.98) scale(1 1.1)" class="xt">5/5</text><text transform="translate(504.86 373.98) scale(1 1.1)" class="xt">5/19</text><text transform="translate(457.2 389.27) scale(1 1.1)" class="tl">Time (mm/dd)</text><text transform="translate(364.3 311.3) rotate(-90)" class="lbi">LBI</text><text transform="translate(399.71 289.1) scale(1 1.06)" class="nm" textLength="42.74" lengthAdjust="spacing">Rajasthan</text><path d="M392.23 346.42C392.51 347.12 393.32 349.65 393.87 350.63C394.41 351.6 394.84 351.99 395.5 352.26C396.17 352.54 397.14 352.54 397.84 352.26C398.54 351.99 399.2 351.6 399.71 350.63C400.21 349.65 400.41 348.1 400.88 346.42C401.34 344.75 402 340.97 402.51 340.58C403.02 340.19 403.48 342.92 403.91 344.09C404.34 345.26 404.54 347.01 405.08 347.59C405.63 348.18 406.52 347.32 407.18 347.59C407.84 347.86 408.43 348.64 409.05 349.23C409.67 349.81 410.3 350.86 410.92 351.09C411.54 351.33 412.2 351.41 412.79 350.63C413.37 349.85 413.88 348.41 414.42 346.42C414.97 344.44 415.55 338.91 416.06 338.72C416.56 338.52 416.99 343.66 417.46 345.26C417.93 346.85 418.32 347.98 418.86 348.29C419.41 348.6 420.11 347.05 420.73 347.12C421.35 347.2 422.01 348.1 422.6 348.76C423.18 349.42 423.57 350.59 424.23 351.09C424.9 351.6 425.91 351.99 426.57 351.8C427.23 351.6 427.7 351.02 428.2 349.93C428.71 348.84 429.18 346.7 429.61 345.26C430.03 343.82 430.38 341.09 430.77 341.28C431.16 341.48 431.55 344.98 431.94 346.42C432.33 347.86 432.64 349.54 433.11 349.93C433.58 350.32 434.08 349.34 434.74 348.76C435.41 348.18 436.3 346.89 437.08 346.42C437.86 345.96 438.64 346.15 439.42 345.96C440.19 345.76 441.13 345.76 441.75 345.26C442.37 344.75 442.69 344.09 443.15 342.92C443.62 341.75 444.09 338.25 444.55 338.25C445.02 338.25 445.45 341.95 445.96 342.92C446.46 343.89 447.05 343.97 447.59 344.09C448.14 344.2 448.64 343.31 449.23 343.62C449.81 343.93 450.47 345.41 451.09 345.96C451.72 346.5 452.26 346.81 452.96 346.89C453.66 346.97 454.64 346.89 455.3 346.42C455.96 345.96 456.47 345.06 456.93 344.09C457.4 343.11 457.71 341.75 458.1 340.58C458.49 339.42 458.88 337.08 459.27 337.08C459.66 337.08 460.01 339.73 460.44 340.58C460.87 341.44 461.26 342.22 461.84 342.22C462.42 342.22 463.2 340.86 463.94 340.58C464.68 340.31 465.5 340.66 466.28 340.58C467.06 340.51 467.95 340.7 468.61 340.12C469.27 339.53 469.74 338.56 470.25 337.08C470.75 335.6 471.22 332.8 471.65 331.24C472.08 329.68 472.35 328.32 472.82 327.74C473.28 327.15 473.91 328.13 474.45 327.74C475 327.35 475.5 326.26 476.09 325.4C476.67 324.55 477.26 323.18 477.96 322.6C478.66 322.01 479.51 322.01 480.29 321.9C481.07 321.78 481.93 321.7 482.63 321.9C483.33 322.09 483.91 323.34 484.5 323.07C485.08 322.79 485.63 321.24 486.13 320.26C486.64 319.29 487.07 317.34 487.53 317.23C488 317.11 488.47 319.06 488.93 319.56C489.4 320.07 489.83 320.46 490.34 320.26C490.84 320.07 491.43 319.09 491.97 318.39C492.52 317.69 493.02 316.84 493.61 316.06C494.19 315.28 494.77 314.7 495.47 313.72C496.18 312.75 497.11 311.39 497.81 310.22C498.51 309.05 499.09 307.88 499.68 306.72C500.26 305.55 500.77 303.8 501.31 303.21C501.86 302.63 502.36 303.6 502.95 303.21C503.53 302.82 504.19 301.54 504.82 300.88C505.44 300.21 505.91 299.55 506.69 299.24C507.46 298.93 508.63 299.12 509.49 299.01C510.35 298.89 511.12 298.81 511.82 298.54C512.53 298.27 513.15 298.03 513.69 297.37C514.24 296.71 514.71 294.76 515.09 294.57C515.48 294.37 515.72 294.96 516.03 296.2C516.34 297.45 516.81 301.07 516.96 302.04" class="cv"/></g>
<g><rect x="559.5" y="272" width="125" height="87.7" class="ax"/><path d="M559.5 359.7v-2.2M559.5 272v2.2M573.54 359.7v-1.3M573.54 272v1.3M587.59 359.7v-2.2M587.59 272v2.2M601.63 359.7v-1.3M601.63 272v1.3M615.68 359.7v-2.2M615.68 272v2.2M629.72 359.7v-1.3M629.72 272v1.3M643.77 359.7v-2.2M643.77 272v2.2M657.81 359.7v-1.3M657.81 272v1.3M671.86 359.7v-2.2M671.86 272v2.2M559.5 279.1h2.2M684.5 279.1h-2.2M559.5 290.08h1.3M684.5 290.08h-1.3M559.5 301.07h2.2M684.5 301.07h-2.2M559.5 312.05h1.3M684.5 312.05h-1.3M559.5 323.03h2.2M684.5 323.03h-2.2M559.5 334.02h1.3M684.5 334.02h-1.3M559.5 345h2.2M684.5 345h-2.2M559.5 355.98h1.3M684.5 355.98h-1.3" class="tk"/><text transform="translate(557.5 282.5) scale(1 1.1)" class="yt">75</text><text transform="translate(557.5 304.47) scale(1 1.1)" class="yt">60</text><text transform="translate(557.5 326.43) scale(1 1.1)" class="yt">45</text><text transform="translate(557.5 348.4) scale(1 1.1)" class="yt">30</text><text transform="translate(559.5 372.82) scale(1 1.1)" class="xt">3/24</text><text transform="translate(587.59 372.82) scale(1 1.1)" class="xt">4/7</text><text transform="translate(615.68 372.82) scale(1 1.1)" class="xt">4/21</text><text transform="translate(643.77 372.82) scale(1 1.1)" class="xt">5/5</text><text transform="translate(671.86 372.82) scale(1 1.1)" class="xt">5/19</text><text transform="translate(623.1 389.27) scale(1 1.1)" class="tl">Time (mm/dd)</text><text transform="translate(538.4 310.4) rotate(-90)" class="lbi">LBI</text><text transform="translate(564.71 289.91) scale(1 1.06)" class="nm" textLength="45.08" lengthAdjust="spacing">Tamilnadu</text><path d="M559.57 279.85C559.73 282.38 560.15 289.98 560.5 295.04C560.85 300.1 561.28 306.72 561.67 310.22C562.06 313.72 562.33 314.89 562.84 316.06C563.35 317.23 564.09 317.15 564.71 317.23C565.33 317.3 565.99 317.3 566.58 316.53C567.16 315.75 567.74 314 568.21 312.55C568.68 311.11 568.95 307.88 569.38 307.88C569.81 307.88 570.39 311.5 570.78 312.55C571.17 313.61 571.17 314.07 571.72 314.19C572.26 314.31 573.27 313.26 574.05 313.26C574.83 313.26 575.53 314.11 576.39 314.19C577.24 314.27 578.41 314.27 579.19 313.72C579.97 313.18 580.44 312.28 581.06 310.92C581.68 309.56 582.34 305.66 582.93 305.55C583.51 305.43 584.09 309.25 584.56 310.22C585.03 311.19 585.22 311.66 585.73 311.39C586.24 311.11 587.01 308.9 587.6 308.58C588.18 308.27 588.57 309.13 589.23 309.52C589.9 309.91 590.79 310.8 591.57 310.92C592.35 311.04 593.2 310.73 593.91 310.22C594.61 309.71 595.19 309.05 595.77 307.88C596.36 306.72 596.9 303.21 597.41 303.21C597.91 303.21 598.34 306.72 598.81 307.88C599.28 309.05 599.67 309.91 600.21 310.22C600.76 310.53 601.38 309.64 602.08 309.75C602.78 309.87 603.64 310.65 604.42 310.92C605.19 311.19 606.05 311.5 606.75 311.39C607.45 311.27 608.04 311 608.62 310.22C609.2 309.44 609.71 307.77 610.26 306.72C610.8 305.66 611.38 303.52 611.89 303.91C612.4 304.3 612.79 307.88 613.29 309.05C613.8 310.22 614.38 310.73 614.93 310.92C615.47 311.11 615.98 310.22 616.56 310.22C617.15 310.22 617.81 310.65 618.43 310.92C619.05 311.19 619.72 312.17 620.3 311.85C620.88 311.54 621.39 309.91 621.93 309.05C622.48 308.19 623.06 306.72 623.57 306.72C624.08 306.72 624.54 308.08 624.97 309.05C625.4 310.02 625.67 311 626.14 312.55C626.61 314.11 627.31 317.23 627.77 318.39C628.24 319.56 628.47 319.76 628.94 319.56C629.41 319.37 630.07 318.28 630.58 317.23C631.08 316.18 631.47 314.62 631.98 313.26C632.48 311.89 633.15 309.56 633.61 309.05C634.08 308.55 634.35 310.1 634.78 310.22C635.21 310.34 635.72 310.34 636.18 309.75C636.65 309.17 637.04 308.08 637.58 306.72C638.13 305.35 638.87 302.16 639.45 301.58C640.04 300.99 640.58 302.82 641.09 303.21C641.59 303.6 641.98 304.03 642.49 303.91C643 303.8 643.54 303.02 644.12 302.51C644.71 302 645.29 301.34 645.99 300.88C646.69 300.41 647.55 300.29 648.33 299.71C649.11 299.12 650 298.15 650.66 297.37C651.33 296.59 651.83 296.01 652.3 295.04C652.77 294.06 653 291.92 653.47 291.53C653.93 291.14 654.6 292.43 655.1 292.7C655.61 292.97 655.92 293.36 656.5 293.17C657.09 292.97 657.94 292 658.61 291.53C659.27 291.07 659.85 290.75 660.47 290.36C661.1 289.98 661.76 289.66 662.34 289.2C662.93 288.73 663.39 288.15 663.98 287.56C664.56 286.98 665.18 286.32 665.85 285.69C666.51 285.07 667.29 283.9 667.95 283.82C668.61 283.75 669.19 284.91 669.82 285.23C670.44 285.54 670.91 285.69 671.69 285.69C672.46 285.69 673.63 285.3 674.49 285.23C675.35 285.15 676.12 285.54 676.82 285.23C677.53 284.91 678.11 284.14 678.69 283.36C679.28 282.58 679.78 281.26 680.33 280.55C680.87 279.85 681.46 279.08 681.96 279.15C682.47 279.23 682.94 279.74 683.36 281.02C683.79 282.31 684.34 285.89 684.53 286.86" class="cv"/></g>
<g><rect x="59.5" y="399" width="125" height="87.3" class="ax"/><path d="M59.5 486.3v-2.2M59.5 399v2.2M73.54 486.3v-1.3M73.54 399v1.3M87.59 486.3v-2.2M87.59 399v2.2M101.63 486.3v-1.3M101.63 399v1.3M115.68 486.3v-2.2M115.68 399v2.2M129.72 486.3v-1.3M129.72 399v1.3M143.77 486.3v-2.2M143.77 399v2.2M157.81 486.3v-1.3M157.81 399v1.3M171.86 486.3v-2.2M171.86 399v2.2M59.5 406.7h2.2M184.5 406.7h-2.2M59.5 417.85h1.3M184.5 417.85h-1.3M59.5 429h2.2M184.5 429h-2.2M59.5 440.15h1.3M184.5 440.15h-1.3M59.5 451.3h2.2M184.5 451.3h-2.2M59.5 462.45h1.3M184.5 462.45h-1.3M59.5 473.6h2.2M184.5 473.6h-2.2M59.5 484.75h1.3M184.5 484.75h-1.3" class="tk"/><text transform="translate(57.5 410.1) scale(1 1.1)" class="yt">70</text><text transform="translate(57.5 432.4) scale(1 1.1)" class="yt">56</text><text transform="translate(57.5 454.7) scale(1 1.1)" class="yt">42</text><text transform="translate(57.5 477) scale(1 1.1)" class="yt">28</text><text transform="translate(59.5 499.82) scale(1 1.1)" class="xt">3/24</text><text transform="translate(87.59 499.82) scale(1 1.1)" class="xt">4/7</text><text transform="translate(115.68 499.82) scale(1 1.1)" class="xt">4/21</text><text transform="translate(143.77 499.82) scale(1 1.1)" class="xt">5/5</text><text transform="translate(171.86 499.82) scale(1 1.1)" class="xt">5/19</text><text transform="translate(119.3 519.08) scale(1 1.1)" class="tl">Time (mm/dd)</text><text transform="translate(38.4 437.5) rotate(-90)" class="lbi">LBI</text><text transform="translate(71.58 414) scale(1 1.06)" class="nm" textLength="44.85" lengthAdjust="spacing">Telangana</text><path d="M59.2 433.72C59.39 434.7 59.86 438.2 60.36 439.56C60.87 440.92 61.53 441.39 62.23 441.9C62.93 442.4 63.91 442.79 64.57 442.6C65.23 442.4 65.66 441.63 66.2 440.73C66.75 439.83 67.33 438.47 67.84 437.23C68.35 435.98 68.73 432.87 69.24 433.26C69.75 433.64 70.41 438.24 70.88 439.56C71.34 440.89 71.54 441.08 72.04 441.2C72.55 441.31 73.33 440.26 73.91 440.26C74.5 440.26 74.89 440.92 75.55 441.2C76.21 441.47 77.18 442.05 77.88 441.9C78.58 441.74 79.17 441.24 79.75 440.26C80.34 439.29 80.8 437.65 81.39 436.06C81.97 434.46 82.67 430.49 83.26 430.69C83.84 430.88 84.35 435.94 84.89 437.23C85.44 438.51 85.94 438.39 86.53 438.39C87.11 438.39 87.69 437.23 88.39 437.23C89.09 437.23 89.95 437.89 90.73 438.39C91.51 438.9 92.36 440.26 93.07 440.26C93.77 440.26 94.43 439.29 94.93 438.39C95.44 437.5 95.67 436.18 96.1 434.89C96.53 433.61 97.04 430.3 97.5 430.69C97.97 431.08 98.48 435.75 98.91 437.23C99.33 438.71 99.49 439.37 100.07 439.56C100.66 439.76 101.63 438.39 102.41 438.39C103.19 438.39 104.04 439.29 104.74 439.56C105.45 439.83 106.03 440.3 106.61 440.03C107.2 439.76 107.7 438.98 108.25 437.93C108.79 436.88 109.38 434.89 109.88 433.72C110.39 432.55 110.78 430.34 111.28 430.92C111.79 431.5 112.45 435.51 112.92 437.23C113.39 438.94 113.5 440.5 114.09 441.2C114.67 441.9 115.64 441.2 116.42 441.43C117.2 441.66 117.98 442.52 118.76 442.6C119.54 442.68 120.39 442.4 121.09 441.9C121.8 441.39 122.46 440.54 122.96 439.56C123.47 438.59 123.74 437.23 124.13 436.06C124.52 434.89 124.83 432.17 125.3 432.55C125.77 432.94 126.47 436.95 126.93 438.39C127.4 439.83 127.6 440.89 128.1 441.2C128.61 441.51 129.39 440.54 129.97 440.26C130.55 439.99 130.94 439.56 131.61 439.56C132.27 439.56 133.28 440.46 133.94 440.26C134.6 440.07 135.07 439.48 135.58 438.39C136.08 437.3 136.43 435.47 136.98 433.72C137.52 431.97 138.3 428.27 138.85 427.88C139.39 427.49 139.78 430.22 140.25 431.39C140.72 432.55 141.14 434.58 141.65 434.89C142.16 435.2 142.74 434.23 143.28 433.26C143.83 432.28 144.34 429.95 144.92 429.05C145.5 428.16 146.09 428.27 146.79 427.88C147.49 427.49 148.42 427.1 149.12 426.72C149.82 426.33 150.41 426.33 150.99 425.55C151.58 424.77 152.16 423.21 152.63 422.04C153.09 420.88 153.37 418.54 153.8 418.54C154.22 418.54 154.73 420.88 155.2 422.04C155.66 423.21 156.05 425.16 156.6 425.55C157.14 425.94 157.77 424.65 158.47 424.38C159.17 424.11 160.02 424.03 160.8 423.91C161.58 423.8 162.44 423.99 163.14 423.68C163.84 423.37 164.42 422.71 165.01 422.04C165.59 421.38 166.18 420.68 166.64 419.71C167.11 418.73 167.38 416.59 167.81 416.2C168.24 415.82 168.74 416.79 169.21 417.37C169.68 417.96 170.07 419.71 170.61 419.71C171.16 419.71 171.86 418.15 172.48 417.37C173.1 416.59 173.65 415.43 174.35 415.04C175.05 414.65 175.91 415.23 176.69 415.04C177.46 414.84 178.36 414.65 179.02 413.87C179.68 413.09 180.11 411.42 180.66 410.36C181.2 409.31 181.82 407.56 182.29 407.56C182.76 407.56 183.15 408.34 183.46 410.36C183.77 412.39 184.04 418.15 184.16 419.71" class="cv"/></g>
<g><rect x="227" y="398" width="125" height="87.5" class="ax"/><path d="M227 485.5v-2.2M227 398v2.2M241.04 485.5v-1.3M241.04 398v1.3M255.09 485.5v-2.2M255.09 398v2.2M269.13 485.5v-1.3M269.13 398v1.3M283.18 485.5v-2.2M283.18 398v2.2M297.22 485.5v-1.3M297.22 398v1.3M311.27 485.5v-2.2M311.27 398v2.2M325.31 485.5v-1.3M325.31 398v1.3M339.36 485.5v-2.2M339.36 398v2.2M227 402.02h1.3M352 402.02h-1.3M227 412.9h2.2M352 412.9h-2.2M227 423.78h1.3M352 423.78h-1.3M227 434.67h2.2M352 434.67h-2.2M227 445.55h1.3M352 445.55h-1.3M227 456.43h2.2M352 456.43h-2.2M227 467.32h1.3M352 467.32h-1.3M227 478.2h2.2M352 478.2h-2.2" class="tk"/><text transform="translate(225 416.3) scale(1 1.1)" class="yt">75.0</text><text transform="translate(225 438.07) scale(1 1.1)" class="yt">67.5</text><text transform="translate(225 459.83) scale(1 1.1)" class="yt">60.0</text><text transform="translate(225 481.6) scale(1 1.1)" class="yt">52.5</text><text transform="translate(227 498.66) scale(1 1.1)" class="xt">3/24</text><text transform="translate(255.09 498.66) scale(1 1.1)" class="xt">4/7</text><text transform="translate(283.18 498.66) scale(1 1.1)" class="xt">4/21</text><text transform="translate(311.27 498.66) scale(1 1.1)" class="xt">5/5</text><text transform="translate(339.36 498.66) scale(1 1.1)" class="xt">5/19</text><text transform="translate(283.7 518.14) scale(1 1.1)" class="tl">Time (mm/dd)</text><text transform="translate(199 436) rotate(-90)" class="lbi">LBI</text><text transform="translate(231.53 416.1) scale(1 1.06)" class="nm" textLength="60.73" lengthAdjust="spacing">Uttar Pradesh</text><path d="M226.86 444.23C227.06 446.76 227.64 455.52 228.03 459.42C228.42 463.31 228.61 466.11 229.2 467.59C229.78 469.07 230.75 468.18 231.53 468.29C232.31 468.41 233.28 468.99 233.87 468.29C234.45 467.59 234.57 466.35 235.04 464.09C235.5 461.83 236.17 455.52 236.67 454.74C237.18 453.97 237.64 457.94 238.07 459.42C238.5 460.9 238.66 462.92 239.24 463.62C239.82 464.32 240.8 463.23 241.58 463.62C242.36 464.01 243.13 465.8 243.91 465.96C244.69 466.11 245.47 465.26 246.25 464.55C247.03 463.85 248 463.19 248.58 461.75C249.17 460.31 249.36 457.66 249.75 455.91C250.14 454.16 250.49 451.05 250.92 451.24C251.35 451.44 251.85 455.83 252.32 457.08C252.79 458.33 253.26 459.3 253.72 458.72C254.19 458.13 254.66 454.63 255.12 453.58C255.59 452.53 256.06 452.02 256.53 452.41C256.99 452.8 257.42 454.43 257.93 455.91C258.43 457.39 258.98 460.23 259.56 461.28C260.15 462.34 260.85 462.53 261.43 462.22C262.01 461.91 262.6 461.05 263.07 459.42C263.53 457.78 263.84 453.89 264.23 452.41C264.62 450.93 264.93 449.96 265.4 450.54C265.87 451.12 266.53 454.82 267.04 455.91C267.54 457 267.93 457.27 268.44 457.08C268.94 456.89 269.61 455.21 270.07 454.74C270.54 454.28 270.77 454.08 271.24 454.28C271.71 454.47 272.29 455.25 272.88 455.91C273.46 456.57 274.12 457.59 274.74 458.25C275.37 458.91 276.03 460.27 276.61 459.88C277.2 459.49 277.78 457.24 278.25 455.91C278.72 454.59 279.03 451.94 279.42 451.94C279.81 451.94 280.19 454.59 280.58 455.91C280.97 457.24 281.17 459.1 281.75 459.88C282.34 460.66 283.31 460.27 284.09 460.58C284.87 460.9 285.64 461.56 286.42 461.75C287.2 461.95 287.98 461.75 288.76 461.75C289.54 461.75 290.47 462.34 291.09 461.75C291.72 461.17 292.11 459.42 292.5 458.25C292.89 457.08 293.08 454.55 293.43 454.74C293.78 454.94 294.21 458.25 294.6 459.42C294.99 460.58 295.26 461.67 295.77 461.75C296.27 461.83 297.05 460.08 297.64 459.88C298.22 459.69 298.61 460.39 299.27 460.58C299.93 460.78 300.83 461.17 301.61 461.05C302.38 460.93 303.28 460.93 303.94 459.88C304.6 458.83 305.07 456.77 305.58 454.74C306.08 452.72 306.47 449.1 306.98 447.74C307.48 446.37 308.15 446.49 308.61 446.57C309.08 446.65 309.27 448.4 309.78 448.2C310.29 448.01 311.07 446.26 311.65 445.4C312.23 444.55 312.62 443.53 313.28 443.07C313.95 442.6 314.92 443.18 315.62 442.6C316.32 442.01 316.91 440.26 317.49 439.56C318.07 438.86 318.54 439.37 319.12 438.39C319.71 437.42 320.41 434.31 320.99 433.72C321.58 433.14 322.08 434.62 322.63 434.89C323.17 435.16 323.68 435.55 324.26 435.36C324.85 435.16 325.51 434.38 326.13 433.72C326.75 433.06 327.42 432.36 328 431.39C328.58 430.41 329.09 428.86 329.64 427.88C330.18 426.91 330.69 426.33 331.27 425.55C331.85 424.77 332.52 424.11 333.14 423.21C333.76 422.32 334.42 420.29 335.01 420.18C335.59 420.06 336.1 422.28 336.64 422.51C337.19 422.74 337.69 422.04 338.28 421.58C338.86 421.11 339.45 420.21 340.15 419.71C340.85 419.2 341.7 419.12 342.48 418.54C343.26 417.96 344.04 416.71 344.82 416.2C345.6 415.7 346.37 415.89 347.15 415.5C347.93 415.11 348.91 414.34 349.49 413.87C350.07 413.4 350.27 412.12 350.66 412.7C351.05 413.28 351.51 415.23 351.82 417.37C352.14 419.51 352.41 424.18 352.53 425.55" class="cv"/></g>
<g><rect x="392.5" y="398" width="125" height="87.5" class="ax"/><path d="M392.5 485.5v-2.2M392.5 398v2.2M406.54 485.5v-1.3M406.54 398v1.3M420.59 485.5v-2.2M420.59 398v2.2M434.63 485.5v-1.3M434.63 398v1.3M448.68 485.5v-2.2M448.68 398v2.2M462.72 485.5v-1.3M462.72 398v1.3M476.77 485.5v-2.2M476.77 398v2.2M490.81 485.5v-1.3M490.81 398v1.3M504.86 485.5v-2.2M504.86 398v2.2M392.5 401.37h1.3M517.5 401.37h-1.3M392.5 412.3h2.2M517.5 412.3h-2.2M392.5 423.23h1.3M517.5 423.23h-1.3M392.5 434.17h2.2M517.5 434.17h-2.2M392.5 445.1h1.3M517.5 445.1h-1.3M392.5 456.03h2.2M517.5 456.03h-2.2M392.5 466.97h1.3M517.5 466.97h-1.3M392.5 477.9h2.2M517.5 477.9h-2.2" class="tk"/><text transform="translate(390.5 415.7) scale(1 1.1)" class="yt">75.0</text><text transform="translate(390.5 437.57) scale(1 1.1)" class="yt">67.5</text><text transform="translate(390.5 459.43) scale(1 1.1)" class="yt">60.0</text><text transform="translate(390.5 481.3) scale(1 1.1)" class="yt">52.5</text><text transform="translate(392.5 498.66) scale(1 1.1)" class="xt">3/24</text><text transform="translate(420.59 498.66) scale(1 1.1)" class="xt">4/7</text><text transform="translate(448.68 498.66) scale(1 1.1)" class="xt">4/21</text><text transform="translate(476.77 498.66) scale(1 1.1)" class="xt">5/5</text><text transform="translate(504.86 498.66) scale(1 1.1)" class="xt">5/19</text><text transform="translate(448.8 518.14) scale(1 1.1)" class="tl">Time (mm/dd)</text><text transform="translate(364.2 435.9) rotate(-90)" class="lbi">LBI</text><text transform="translate(401.58 416.1) scale(1 1.06)" class="nm" textLength="55.36" lengthAdjust="spacing">West Bengal</text><path d="M392.23 469.93C392.51 470.71 393.32 473.31 393.87 474.6C394.41 475.88 394.84 477.05 395.5 477.64C396.17 478.22 397.14 478.41 397.84 478.1C398.54 477.79 399.16 477.13 399.71 475.77C400.25 474.4 400.64 471.95 401.11 469.93C401.58 467.9 402.04 463.62 402.51 463.62C402.98 463.62 403.48 467.9 403.91 469.93C404.34 471.95 404.61 474.87 405.08 475.77C405.55 476.66 406.13 475.69 406.72 475.3C407.3 474.91 408 473.94 408.58 473.43C409.17 472.92 409.56 472.34 410.22 472.26C410.88 472.18 411.89 473.74 412.55 472.96C413.22 472.18 413.68 469.85 414.19 467.59C414.7 465.33 415.2 461.25 415.59 459.42C415.98 457.59 416.14 456.03 416.53 456.61C416.91 457.2 417.42 461.28 417.93 462.92C418.43 464.55 419.02 466.23 419.56 466.42C420.11 466.62 420.61 464.67 421.2 464.09C421.78 463.5 422.44 462.84 423.07 462.92C423.69 463 424.23 464.05 424.93 464.55C425.64 465.06 426.61 466.62 427.27 465.96C427.93 465.29 428.36 462.84 428.91 460.58C429.45 458.33 430.03 452.6 430.54 452.41C431.05 452.21 431.44 457.08 431.94 459.42C432.45 461.75 432.91 465.45 433.58 466.42C434.24 467.4 435.13 465.72 435.91 465.26C436.69 464.79 437.47 463.74 438.25 463.62C439.03 463.5 440 464.28 440.58 464.55C441.17 464.83 441.36 465.92 441.75 465.26C442.14 464.59 442.45 462.14 442.92 460.58C443.39 459.03 444.05 455.33 444.55 455.91C445.06 456.5 445.45 461.56 445.96 464.09C446.46 466.62 447.05 470.32 447.59 471.09C448.14 471.87 448.72 469.54 449.23 468.76C449.73 467.98 450.12 466.42 450.63 466.42C451.13 466.42 451.8 468.18 452.26 468.76C452.73 469.34 452.92 470.12 453.43 469.93C453.94 469.73 454.72 468.56 455.3 467.59C455.88 466.62 456.39 465.84 456.93 464.09C457.48 462.34 458.06 456.89 458.57 457.08C459.08 457.27 459.46 462.92 459.97 465.26C460.48 467.59 461.06 470.71 461.61 471.09C462.15 471.48 462.66 468.95 463.24 467.59C463.82 466.23 464.6 463.7 465.11 462.92C465.62 462.14 465.81 462.14 466.28 462.92C466.74 463.7 467.41 466.42 467.91 467.59C468.42 468.76 468.81 470.51 469.31 469.93C469.82 469.34 470.48 466.42 470.95 464.09C471.42 461.75 471.73 458.33 472.12 455.91C472.51 453.5 472.9 449.61 473.28 449.61C473.67 449.61 474.02 454.08 474.45 455.91C474.88 457.74 475.35 460.39 475.85 460.58C476.36 460.78 476.94 458.25 477.49 457.08C478.03 455.91 478.58 453.97 479.12 453.58C479.67 453.19 480.18 454.47 480.76 454.74C481.34 455.02 482.04 455.41 482.63 455.21C483.21 455.02 483.76 454.63 484.26 453.58C484.77 452.53 485.16 450.73 485.66 448.91C486.17 447.08 486.83 442.99 487.3 442.6C487.77 442.21 487.96 445.13 488.47 446.57C488.97 448.01 489.75 450.97 490.34 451.24C490.92 451.51 491.43 449.06 491.97 448.2C492.52 447.35 493.02 446.57 493.61 446.1C494.19 445.64 494.77 445.71 495.47 445.4C496.18 445.09 497.15 444.93 497.81 444.23C498.47 443.53 498.94 443.26 499.45 441.2C499.95 439.13 500.42 433.02 500.85 431.85C501.27 430.69 501.63 432.91 502.01 434.19C502.4 435.47 502.72 437.69 503.18 439.56C503.65 441.43 504.35 442.87 504.82 445.4C505.28 447.93 505.6 450.85 505.99 454.74C506.37 458.64 506.84 465.72 507.15 468.76C507.46 471.8 507.58 472.77 507.85 472.96C508.13 473.16 508.44 472.18 508.79 469.93C509.14 467.67 509.45 463.5 509.96 459.42C510.46 455.33 511.2 449.88 511.82 445.4C512.45 440.92 513.15 435.75 513.69 432.55C514.24 429.36 514.71 426.64 515.09 426.25C515.48 425.86 515.72 427.42 516.03 430.22C516.34 433.02 516.81 440.92 516.96 443.07" class="cv"/></g>
<rect x="211.1" y="538.6" width="392.9" height="95.8" class="ax"/>
<rect x="213.4" y="599.43" width="21.0" height="22.13" fill="#c4b3d8" class="bo"/>
<rect x="213.4" y="621.56" width="21.0" height="12.84" fill="#98d496" class="bo"/>
<rect x="239.62" y="595.6" width="21.0" height="18.68" fill="#c4b3d8" class="bo"/>
<rect x="239.62" y="614.28" width="21.0" height="14.37" fill="#98d496" class="bo"/>
<rect x="239.62" y="628.65" width="21.0" height="5.75" fill="#f9c38d" class="bo"/>
<rect x="265.84" y="597.04" width="21.0" height="26.35" fill="#c4b3d8" class="bo"/>
<rect x="265.84" y="623.38" width="21.0" height="11.02" fill="#98d496" class="bo"/>
<rect x="292.06" y="593.4" width="21.0" height="29.12" fill="#c4b3d8" class="bo"/>
<rect x="292.06" y="622.52" width="21.0" height="10.25" fill="#98d496" class="bo"/>
<rect x="292.06" y="632.77" width="21.0" height="1.63" fill="#f9c38d" class="bo"/>
<rect x="318.28" y="587.65" width="21.0" height="29.22" fill="#c4b3d8" class="bo"/>
<rect x="318.28" y="616.87" width="21.0" height="17.53" fill="#98d496" class="bo"/>
<rect x="344.5" y="576.54" width="21.0" height="29.79" fill="#c4b3d8" class="bo"/>
<rect x="344.5" y="606.33" width="21.0" height="25.2" fill="#98d496" class="bo"/>
<rect x="344.5" y="631.53" width="21.0" height="2.87" fill="#f9c38d" class="bo"/>
<rect x="370.72" y="550.29" width="21.0" height="40.24" fill="#c4b3d8" class="bo"/>
<rect x="370.72" y="590.52" width="21.0" height="29.89" fill="#98d496" class="bo"/>
<rect x="370.72" y="620.41" width="21.0" height="13.99" fill="#f9c38d" class="bo"/>
<rect x="396.94" y="596.46" width="21.0" height="22.13" fill="#c4b3d8" class="bo"/>
<rect x="396.94" y="618.59" width="21.0" height="14.18" fill="#98d496" class="bo"/>
<rect x="396.94" y="632.77" width="21.0" height="1.63" fill="#f9c38d" class="bo"/>
<rect x="423.16" y="601.16" width="21.0" height="18.87" fill="#c4b3d8" class="bo"/>
<rect x="423.16" y="620.03" width="21.0" height="12.93" fill="#98d496" class="bo"/>
<rect x="423.16" y="632.96" width="21.0" height="1.44" fill="#f9c38d" class="bo"/>
<rect x="449.38" y="575" width="21.0" height="37.36" fill="#c4b3d8" class="bo"/>
<rect x="449.38" y="612.37" width="21.0" height="19.16" fill="#98d496" class="bo"/>
<rect x="449.38" y="631.53" width="21.0" height="2.87" fill="#f9c38d" class="bo"/>
<rect x="475.6" y="583.63" width="21.0" height="28.93" fill="#c4b3d8" class="bo"/>
<rect x="475.6" y="612.56" width="21.0" height="17.72" fill="#98d496" class="bo"/>
<rect x="475.6" y="630.28" width="21.0" height="4.12" fill="#f9c38d" class="bo"/>
<rect x="501.82" y="584.58" width="21.0" height="30.75" fill="#c4b3d8" class="bo"/>
<rect x="501.82" y="615.34" width="21.0" height="19.06" fill="#98d496" class="bo"/>
<rect x="528.04" y="589.37" width="21.0" height="28.26" fill="#c4b3d8" class="bo"/>
<rect x="528.04" y="617.63" width="21.0" height="16.76" fill="#98d496" class="bo"/>
<rect x="554.26" y="597.04" width="21.0" height="22.99" fill="#c4b3d8" class="bo"/>
<rect x="554.26" y="620.03" width="21.0" height="14.37" fill="#98d496" class="bo"/>
<rect x="580.48" y="608.53" width="21.0" height="11.98" fill="#c4b3d8" class="bo"/>
<rect x="580.48" y="620.51" width="21.0" height="11.97" fill="#98d496" class="bo"/>
<rect x="580.48" y="632.48" width="21.0" height="1.92" fill="#f9c38d" class="bo"/>
<path d="M223.9 628.9v11M237.01 631.6v5.6M250.12 628.9v11M263.23 631.6v5.6M276.34 628.9v11M289.45 631.6v5.6M302.56 628.9v11M315.67 631.6v5.6M328.78 628.9v11M341.89 631.6v5.6M355 628.9v11M368.11 631.6v5.6M381.22 628.9v11M394.33 631.6v5.6M407.44 628.9v11M420.55 631.6v5.6M433.66 628.9v11M446.77 631.6v5.6M459.88 628.9v11M472.99 631.6v5.6M486.1 628.9v11M499.21 631.6v5.6M512.32 628.9v11M525.43 631.6v5.6M538.54 628.9v11M551.65 631.6v5.6M564.76 628.9v11M577.87 631.6v5.6M590.98 628.9v11M211.1 634.4h5.5M604.0 634.4h-5.5M211.1 624.82h3M604.0 624.82h-3M211.1 615.24h5.5M604.0 615.24h-5.5M211.1 605.66h3M604.0 605.66h-3M211.1 596.08h5.5M604.0 596.08h-5.5M211.1 586.5h3M604.0 586.5h-3M211.1 576.92h5.5M604.0 576.92h-5.5M211.1 567.34h3M604.0 567.34h-3M211.1 557.76h5.5M604.0 557.76h-5.5M211.1 548.18h3M604.0 548.18h-3M211.1 538.6h5.5M604.0 538.6h-5.5M211.1 634.4V638.3" class="tkb"/>
<rect x="265.84" y="634.4" width="21.0" height="1.3" fill="#4a3a4a"/>
<text x="205.5" y="638.4" class="ybt">0</text>
<text x="205.5" y="619.24" class="ybt">20</text>
<text x="205.5" y="600.08" class="ybt">40</text>
<text x="205.5" y="580.92" class="ybt">60</text>
<text x="205.5" y="561.76" class="ybt">80</text>
<text x="205.5" y="542.6" class="ybt">100</text>
<text transform="translate(229.4 646.9) rotate(-45)" class="bl">Andhra Pradesh</text>
<text transform="translate(255.62 646.9) rotate(-45)" class="bl">Bihar</text>
<text transform="translate(281.84 646.9) rotate(-45)" class="bl">Delhi</text>
<text transform="translate(308.06 646.9) rotate(-45)" class="bl">Gujarat</text>
<text transform="translate(334.28 646.9) rotate(-45)" class="bl">Haryana</text>
<text transform="translate(360.5 646.9) rotate(-45)" class="bl">Karnataka</text>
<text transform="translate(386.72 646.9) rotate(-45)" class="bl">Kerala</text>
<text transform="translate(412.94 646.9) rotate(-45)" class="bl">Madhya Pradesh</text>
<text transform="translate(439.16 646.9) rotate(-45)" class="bl">Maharashtra</text>
<text transform="translate(465.38 646.9) rotate(-45)" class="bl">Punjab</text>
<text transform="translate(491.6 646.9) rotate(-45)" class="bl">Rajasthan</text>
<text transform="translate(517.82 646.9) rotate(-45)" class="bl">Tamil Nadu</text>
<text transform="translate(544.04 646.9) rotate(-45)" class="bl">Telangana</text>
<text transform="translate(570.26 646.9) rotate(-45)" class="bl">Uttar Pradesh</text>
<text transform="translate(596.48 646.9) rotate(-45)" class="bl">West Bengal</text>
<text transform="translate(184 588.5) rotate(-90)" class="pi">% Increase</text>
<rect x="202.5" y="708.5" width="22.5" height="11" fill="#f9c38d" class="lg"/>
<text x="228.2" y="717" class="lt">% Rise in L2.0 w.r.t L1.0</text>
<rect x="336.5" y="708.5" width="22.5" height="11" fill="#98d496" class="lg"/>
<text x="362.1" y="717" class="lt" xml:space="preserve">% Rise in L3.0  w.r.t  L1.0</text>
<rect x="473.5" y="708.5" width="21.5" height="11" fill="#c4b3d8" class="lg"/>
<text x="497.8" y="717" class="lt" xml:space="preserve">% Rise in L4.0 w.r.t  L1.0</text>
<text x="0" y="14.5" class="pl">(a)</text>
<text x="0" y="552.2" class="pl">(b)</text>
</svg></body></html>
